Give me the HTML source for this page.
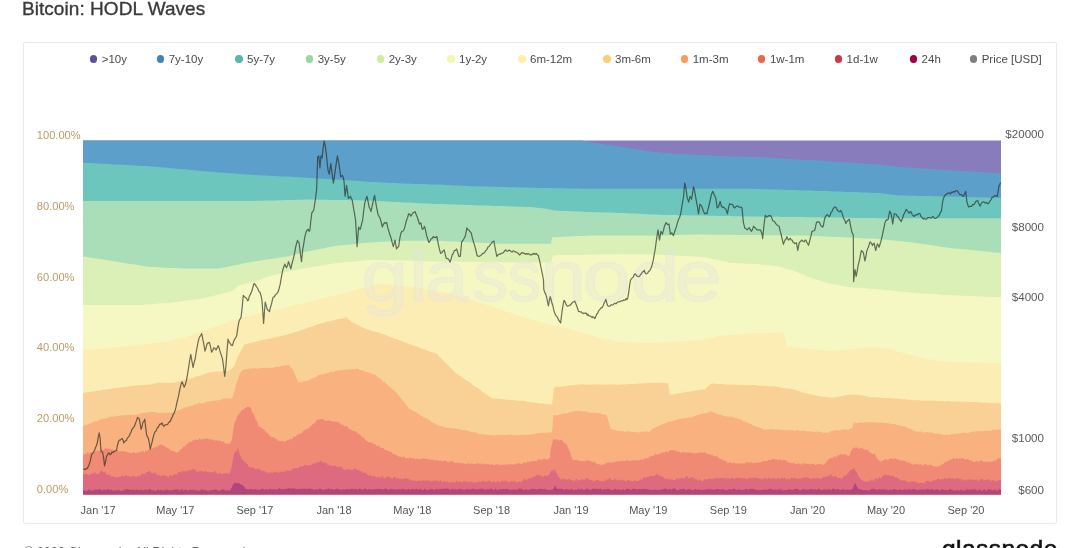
<!DOCTYPE html>
<html><head><meta charset="utf-8"><title>Bitcoin: HODL Waves</title>
<style>
html,body{margin:0;padding:0;background:#fff;}
body{width:1080px;height:548px;overflow:hidden;position:relative;font-family:"Liberation Sans",Arial,sans-serif;}
.title{position:absolute;left:22px;top:-2px;font-size:19px;color:#3a3a3a;-webkit-text-stroke:0.35px #3a3a3a;letter-spacing:0.05px;white-space:nowrap;}
.card{position:absolute;left:23px;top:42px;width:1032px;height:480px;border:1px solid #ebebeb;border-radius:2px;background:#fff;}
.li{position:absolute;top:52px;height:14px;line-height:14px;font-size:11.5px;color:#4a4a4a;padding-left:12px;white-space:nowrap;}
.dot{position:absolute;left:0;top:3px;width:7.6px;height:7.6px;border-radius:50%;}
.yl{position:absolute;left:36.8px;font-size:11.1px;line-height:14px;color:#be9a66;}
.yr{position:absolute;right:36px;font-size:11.6px;line-height:14px;color:#5a5a5a;text-align:right;}
.xl{position:absolute;top:502.5px;width:80px;text-align:center;font-size:11px;line-height:14px;color:#555;}
.foot{position:absolute;left:24px;top:545px;font-size:12.6px;line-height:15px;color:#666;white-space:nowrap;}
.logo{position:absolute;left:942px;top:535px;font-size:24.5px;line-height:28px;color:#111;-webkit-text-stroke:0.6px #111;letter-spacing:0.45px;white-space:nowrap;}
svg{position:absolute;left:0;top:0;}
</style></head><body>
<div class="title">Bitcoin: HODL Waves</div>
<div class="card"></div>
<div class="li" style="left:89.7px"><span class="dot" style="background:#5e4fa2"></span>&gt;10y</div>
<div class="li" style="left:156.7px"><span class="dot" style="background:#4283b4"></span>7y-10y</div>
<div class="li" style="left:235.0px"><span class="dot" style="background:#5eb5ab"></span>5y-7y</div>
<div class="li" style="left:305.7px"><span class="dot" style="background:#98d5a4"></span>3y-5y</div>
<div class="li" style="left:376.7px"><span class="dot" style="background:#cfec9e"></span>2y-3y</div>
<div class="li" style="left:447.0px"><span class="dot" style="background:#f2f9ac"></span>1y-2y</div>
<div class="li" style="left:518.0px"><span class="dot" style="background:#fef0a5"></span>6m-12m</div>
<div class="li" style="left:603.0px"><span class="dot" style="background:#fecd7c"></span>3m-6m</div>
<div class="li" style="left:680.7px"><span class="dot" style="background:#fa9b5a"></span>1m-3m</div>
<div class="li" style="left:757.9px"><span class="dot" style="background:#ec6649"></span>1w-1m</div>
<div class="li" style="left:834.6px"><span class="dot" style="background:#cd374b"></span>1d-1w</div>
<div class="li" style="left:909.6px"><span class="dot" style="background:#9e0142"></span>24h</div>
<div class="li" style="left:969.7px"><span class="dot" style="background:#7f7f7f"></span>Price [USD]</div>
<svg width="1080" height="548" viewBox="0 0 1080 548">
<path d="M83.0,494.4 L83.0,140.5 L87.0,140.5 L91.0,140.5 L95.0,140.5 L99.0,140.5 L103.0,140.5 L107.0,140.5 L111.0,140.5 L115.0,140.5 L119.0,140.5 L123.0,140.5 L127.0,140.5 L131.0,140.5 L135.0,140.5 L139.0,140.5 L143.0,140.5 L147.0,140.5 L151.0,140.5 L155.0,140.5 L159.0,140.5 L163.0,140.5 L167.0,140.5 L171.0,140.5 L175.0,140.5 L179.0,140.5 L183.0,140.5 L187.0,140.5 L191.0,140.5 L195.0,140.5 L199.0,140.5 L203.0,140.5 L207.0,140.5 L211.0,140.5 L215.0,140.5 L219.0,140.5 L223.0,140.5 L227.0,140.5 L231.0,140.5 L235.0,140.5 L239.0,140.5 L243.0,140.5 L247.0,140.5 L251.0,140.5 L255.0,140.5 L259.0,140.5 L263.0,140.5 L267.0,140.5 L271.0,140.5 L275.0,140.5 L279.0,140.5 L283.0,140.5 L287.0,140.5 L291.0,140.5 L295.0,140.5 L299.0,140.5 L303.0,140.5 L307.0,140.5 L311.0,140.5 L315.0,140.5 L319.0,140.5 L323.0,140.5 L327.0,140.5 L331.0,140.5 L335.0,140.5 L339.0,140.5 L343.0,140.5 L347.0,140.5 L351.0,140.5 L355.0,140.5 L359.0,140.5 L363.0,140.5 L367.0,140.5 L371.0,140.5 L375.0,140.5 L379.0,140.5 L383.0,140.5 L387.0,140.5 L391.0,140.5 L395.0,140.5 L399.0,140.5 L403.0,140.5 L407.0,140.5 L411.0,140.5 L415.0,140.5 L419.0,140.5 L423.0,140.5 L427.0,140.5 L431.0,140.5 L435.0,140.5 L439.0,140.5 L443.0,140.5 L447.0,140.5 L451.0,140.5 L455.0,140.5 L459.0,140.5 L463.0,140.5 L467.0,140.5 L471.0,140.5 L475.0,140.5 L479.0,140.5 L483.0,140.5 L487.0,140.5 L491.0,140.5 L495.0,140.5 L499.0,140.5 L503.0,140.5 L507.0,140.5 L511.0,140.5 L515.0,140.5 L519.0,140.5 L523.0,140.5 L527.0,140.5 L531.0,140.5 L535.0,140.5 L539.0,140.5 L543.0,140.5 L547.0,140.5 L551.0,140.5 L555.0,140.5 L559.0,140.5 L563.0,140.5 L567.0,140.5 L571.0,140.5 L575.0,140.5 L579.0,140.5 L583.0,140.5 L587.0,140.5 L591.0,140.5 L595.0,140.5 L599.0,140.5 L603.0,140.5 L607.0,140.5 L611.0,140.5 L615.0,140.5 L619.0,140.5 L623.0,140.5 L627.0,140.5 L631.0,140.5 L635.0,140.5 L639.0,140.5 L643.0,140.5 L647.0,140.5 L651.0,140.5 L655.0,140.5 L659.0,140.5 L663.0,140.5 L667.0,140.5 L671.0,140.5 L675.0,140.5 L679.0,140.5 L683.0,140.5 L687.0,140.5 L691.0,140.5 L695.0,140.5 L699.0,140.5 L703.0,140.5 L707.0,140.5 L711.0,140.5 L715.0,140.5 L719.0,140.5 L723.0,140.5 L727.0,140.5 L731.0,140.5 L735.0,140.5 L739.0,140.5 L743.0,140.5 L747.0,140.5 L751.0,140.5 L755.0,140.5 L759.0,140.5 L763.0,140.5 L767.0,140.5 L771.0,140.5 L775.0,140.5 L779.0,140.5 L783.0,140.5 L787.0,140.5 L791.0,140.5 L795.0,140.5 L799.0,140.5 L803.0,140.5 L807.0,140.5 L811.0,140.5 L815.0,140.5 L819.0,140.5 L823.0,140.5 L827.0,140.5 L831.0,140.5 L835.0,140.5 L839.0,140.5 L843.0,140.5 L847.0,140.5 L851.0,140.5 L855.0,140.5 L859.0,140.5 L863.0,140.5 L867.0,140.5 L871.0,140.5 L875.0,140.5 L879.0,140.5 L883.0,140.5 L887.0,140.5 L891.0,140.5 L895.0,140.5 L899.0,140.5 L903.0,140.5 L907.0,140.5 L911.0,140.5 L915.0,140.5 L919.0,140.5 L923.0,140.5 L927.0,140.5 L931.0,140.5 L935.0,140.5 L939.0,140.5 L943.0,140.5 L947.0,140.5 L951.0,140.5 L955.0,140.5 L959.0,140.5 L963.0,140.5 L967.0,140.5 L971.0,140.5 L975.0,140.5 L979.0,140.5 L983.0,140.5 L987.0,140.5 L991.0,140.5 L995.0,140.5 L999.0,140.5 L1001.0,140.5 L1001.0,494.4 Z" fill="#887cbd"/>
<path d="M83.0,494.4 L83.0,140.5 L87.0,140.5 L91.0,140.5 L95.0,140.5 L99.0,140.5 L103.0,140.5 L107.0,140.5 L111.0,140.5 L115.0,140.5 L119.0,140.5 L123.0,140.5 L127.0,140.5 L131.0,140.5 L135.0,140.5 L139.0,140.5 L143.0,140.5 L147.0,140.5 L151.0,140.5 L155.0,140.5 L159.0,140.5 L163.0,140.5 L167.0,140.5 L171.0,140.5 L175.0,140.5 L179.0,140.5 L183.0,140.5 L187.0,140.5 L191.0,140.5 L195.0,140.5 L199.0,140.5 L203.0,140.5 L207.0,140.5 L211.0,140.5 L215.0,140.5 L219.0,140.5 L223.0,140.5 L227.0,140.5 L231.0,140.5 L235.0,140.5 L239.0,140.5 L243.0,140.5 L247.0,140.5 L251.0,140.5 L255.0,140.5 L259.0,140.5 L263.0,140.5 L267.0,140.5 L271.0,140.5 L275.0,140.5 L279.0,140.5 L283.0,140.5 L287.0,140.5 L291.0,140.5 L295.0,140.5 L299.0,140.5 L303.0,140.5 L307.0,140.5 L311.0,140.5 L315.0,140.5 L319.0,140.5 L323.0,140.5 L327.0,140.5 L331.0,140.5 L335.0,140.5 L339.0,140.5 L343.0,140.5 L347.0,140.5 L351.0,140.5 L355.0,140.5 L359.0,140.5 L363.0,140.5 L367.0,140.5 L371.0,140.5 L375.0,140.5 L379.0,140.5 L383.0,140.5 L387.0,140.5 L391.0,140.5 L395.0,140.5 L399.0,140.5 L403.0,140.5 L407.0,140.5 L411.0,140.5 L415.0,140.5 L419.0,140.5 L423.0,140.5 L427.0,140.5 L431.0,140.5 L435.0,140.5 L439.0,140.5 L443.0,140.5 L447.0,140.5 L451.0,140.5 L455.0,140.5 L459.0,140.5 L463.0,140.5 L467.0,140.5 L471.0,140.5 L475.0,140.5 L479.0,140.5 L483.0,140.5 L487.0,140.5 L491.0,140.5 L495.0,140.5 L499.0,140.5 L503.0,140.5 L507.0,140.5 L511.0,140.5 L515.0,140.5 L519.0,140.5 L523.0,140.5 L527.0,140.5 L531.0,140.5 L535.0,140.5 L539.0,140.5 L543.0,140.5 L547.0,140.5 L551.0,140.5 L555.0,140.5 L559.0,140.5 L563.0,140.5 L567.0,140.5 L571.0,140.5 L575.0,140.5 L579.0,140.5 L582.0,140.5 L583.0,140.7 L587.0,141.4 L591.0,142.2 L595.0,142.9 L597.0,143.3 L599.0,143.6 L603.0,144.2 L607.0,144.8 L611.0,145.4 L615.0,146.0 L615.5,146.1 L619.0,146.6 L623.0,147.2 L627.0,147.8 L631.0,148.4 L634.0,148.9 L635.0,149.1 L639.0,149.7 L643.0,150.3 L647.0,150.9 L651.0,151.5 L652.6,151.7 L655.0,151.9 L659.0,152.3 L663.0,152.7 L667.0,153.1 L671.0,153.5 L675.0,153.7 L679.0,153.9 L683.0,154.1 L687.0,154.3 L689.6,154.4 L691.0,154.5 L695.0,154.7 L699.0,154.9 L703.0,155.1 L707.0,155.3 L708.0,155.4 L711.0,155.5 L715.0,155.7 L719.0,155.9 L723.0,156.1 L726.7,156.3 L727.0,156.3 L731.0,156.4 L735.0,156.5 L739.0,156.6 L743.0,156.7 L747.0,156.8 L751.0,157.0 L755.0,157.1 L759.0,157.2 L760.0,157.2 L763.0,157.4 L767.0,157.6 L771.0,157.8 L775.0,158.1 L779.0,158.3 L783.0,158.5 L787.0,158.7 L791.0,159.0 L795.0,159.2 L799.0,159.4 L803.0,159.7 L807.0,159.9 L809.0,160.0 L811.0,160.1 L815.0,160.4 L819.0,160.6 L823.0,160.9 L827.0,161.2 L831.0,161.4 L835.0,161.7 L839.0,161.9 L843.0,162.2 L847.0,162.4 L851.0,162.7 L855.0,163.0 L859.0,163.2 L863.0,163.5 L867.0,163.7 L871.0,164.0 L875.0,164.2 L879.0,164.5 L883.0,165.0 L887.0,165.5 L891.0,165.9 L895.0,166.4 L899.0,166.9 L900.0,167.0 L903.0,167.2 L907.0,167.4 L911.0,167.7 L915.0,167.9 L919.0,168.2 L923.0,168.4 L927.0,168.7 L931.0,168.9 L935.0,169.2 L939.0,169.4 L943.0,169.7 L947.0,169.9 L948.0,170.0 L951.0,170.2 L955.0,170.5 L959.0,170.7 L963.0,171.0 L967.0,171.3 L971.0,171.5 L975.0,171.8 L979.0,172.0 L983.0,172.3 L987.0,172.6 L991.0,172.8 L995.0,173.1 L999.0,173.4 L1001.0,173.5 L1001.0,494.4 Z" fill="#5d9fcb"/>
<path d="M83.0,494.4 L83.0,162.7 L87.0,162.9 L91.0,163.1 L95.0,163.3 L99.0,163.5 L103.0,163.8 L107.0,164.0 L111.0,164.2 L115.0,164.4 L119.0,164.6 L123.0,164.8 L127.0,165.0 L131.0,165.2 L135.0,165.5 L139.0,165.7 L143.0,165.9 L147.0,166.1 L149.0,166.2 L151.0,166.4 L155.0,166.7 L159.0,167.1 L163.0,167.5 L167.0,167.8 L171.0,168.2 L175.0,168.5 L179.0,168.9 L183.0,169.3 L187.0,169.6 L191.0,170.0 L195.0,170.3 L199.0,170.7 L203.0,171.1 L207.0,171.4 L211.0,171.8 L215.0,172.1 L219.0,172.5 L223.0,172.8 L227.0,173.1 L231.0,173.3 L235.0,173.6 L239.0,173.9 L243.0,174.2 L247.0,174.5 L251.0,174.8 L253.0,174.9 L255.0,175.0 L259.0,175.2 L263.0,175.4 L267.0,175.6 L271.0,175.8 L275.0,176.0 L279.0,176.2 L283.0,176.4 L287.0,176.6 L288.0,176.6 L291.0,176.8 L295.0,177.0 L299.0,177.3 L303.0,177.6 L307.0,177.8 L310.0,178.0 L311.0,178.1 L315.0,178.3 L319.0,178.5 L323.0,178.7 L327.0,179.0 L331.0,179.2 L335.0,179.4 L339.0,179.7 L343.0,180.0 L347.0,180.2 L351.0,180.5 L355.0,180.8 L359.0,181.1 L363.0,181.4 L367.0,181.7 L369.0,181.8 L371.0,181.9 L375.0,182.1 L379.0,182.3 L383.0,182.5 L387.0,182.7 L391.0,182.9 L395.0,183.1 L399.0,183.3 L403.0,183.5 L404.0,183.6 L407.0,183.7 L411.0,183.8 L415.0,183.9 L419.0,184.0 L423.0,184.1 L427.0,184.3 L431.0,184.4 L435.0,184.5 L439.0,184.6 L443.0,184.8 L447.0,185.0 L451.0,185.2 L455.0,185.4 L459.0,185.6 L463.0,185.8 L467.0,186.0 L471.0,186.2 L473.0,186.3 L475.0,186.3 L479.0,186.4 L483.0,186.5 L487.0,186.6 L491.0,186.7 L495.0,186.8 L499.0,186.9 L503.0,187.0 L507.0,187.1 L511.0,187.2 L515.0,187.3 L519.0,187.4 L523.0,187.5 L527.0,187.6 L530.0,187.7 L531.0,187.7 L535.0,187.8 L539.0,187.9 L543.0,187.9 L547.0,188.0 L551.0,188.1 L555.0,188.2 L559.0,188.2 L563.0,188.3 L567.0,188.4 L571.0,188.5 L575.0,188.5 L579.0,188.6 L583.0,188.7 L587.0,188.8 L589.0,188.8 L591.0,188.8 L595.0,188.8 L599.0,188.8 L603.0,188.8 L607.0,188.8 L611.0,188.8 L615.0,188.8 L619.0,188.8 L623.0,188.8 L627.0,188.8 L631.0,188.8 L635.0,188.8 L639.0,188.8 L643.0,188.8 L647.0,188.8 L651.0,188.8 L655.0,188.8 L659.0,188.8 L663.0,188.8 L667.0,188.8 L671.0,188.8 L675.0,188.8 L679.0,188.8 L683.0,188.8 L687.0,188.8 L691.0,188.8 L695.0,188.8 L699.0,188.8 L703.0,188.8 L707.0,188.8 L711.0,188.8 L715.0,188.8 L719.0,188.8 L723.0,188.8 L727.0,188.8 L731.0,188.8 L735.0,188.8 L739.0,188.8 L743.0,188.8 L747.0,188.8 L750.0,188.8 L751.0,188.8 L755.0,188.9 L759.0,189.1 L763.0,189.2 L767.0,189.3 L771.0,189.4 L775.0,189.5 L779.0,189.6 L783.0,189.8 L787.0,189.9 L791.0,190.0 L795.0,190.1 L799.0,190.2 L803.0,190.3 L807.0,190.4 L809.0,190.5 L811.0,190.6 L815.0,190.7 L819.0,190.9 L823.0,191.0 L827.0,191.1 L831.0,191.3 L835.0,191.4 L839.0,191.6 L843.0,191.7 L847.0,191.9 L851.0,192.0 L855.0,192.1 L859.0,192.3 L863.0,192.4 L867.0,192.6 L871.0,192.7 L875.0,192.9 L879.0,193.0 L883.0,193.5 L887.0,194.0 L891.0,194.4 L895.0,194.9 L899.0,195.4 L900.0,195.5 L903.0,195.6 L907.0,195.6 L911.0,195.7 L915.0,195.8 L919.0,195.9 L923.0,196.0 L927.0,196.1 L931.0,196.1 L935.0,196.2 L939.0,196.3 L943.0,196.4 L947.0,196.5 L948.0,196.5 L951.0,196.6 L955.0,196.7 L959.0,196.8 L963.0,196.9 L967.0,197.0 L971.0,197.2 L975.0,197.3 L979.0,197.4 L983.0,197.5 L987.0,197.6 L991.0,197.7 L995.0,197.8 L999.0,197.9 L1001.0,198.0 L1001.0,494.4 Z" fill="#6cc6bd"/>
<path d="M83.0,494.4 L83.0,200.9 L87.0,200.9 L91.0,200.9 L95.0,200.9 L99.0,200.9 L103.0,200.9 L107.0,200.9 L111.0,200.9 L115.0,200.9 L119.0,200.9 L123.0,200.9 L127.0,200.9 L131.0,200.9 L135.0,200.9 L139.0,200.9 L143.0,200.9 L147.0,200.9 L151.0,200.9 L155.0,200.9 L159.0,200.9 L163.0,200.9 L167.0,200.9 L171.0,200.9 L175.0,200.9 L179.0,200.9 L183.0,200.9 L184.0,200.9 L187.0,200.9 L191.0,200.9 L195.0,200.9 L199.0,200.9 L203.0,200.9 L207.0,200.9 L211.0,200.9 L215.0,200.9 L219.0,200.9 L223.0,200.9 L227.0,200.9 L231.0,200.9 L235.0,200.9 L239.0,200.9 L243.0,200.9 L247.0,200.9 L251.0,200.9 L253.0,200.9 L255.0,200.9 L259.0,200.8 L263.0,200.7 L267.0,200.6 L271.0,200.5 L275.0,200.4 L279.0,200.3 L283.0,200.2 L287.0,200.1 L291.0,200.0 L295.0,199.9 L299.0,199.8 L303.0,199.7 L307.0,199.6 L310.0,199.5 L311.0,199.5 L315.0,199.6 L319.0,199.7 L323.0,199.7 L327.0,199.8 L331.0,199.9 L335.0,199.9 L339.0,200.0 L343.0,200.1 L347.0,200.1 L351.0,200.2 L355.0,200.3 L359.0,200.3 L363.0,200.4 L367.0,200.5 L369.0,200.5 L371.0,200.6 L375.0,200.8 L379.0,201.0 L383.0,201.3 L387.0,201.5 L391.0,201.7 L395.0,201.9 L399.0,202.1 L403.0,202.4 L407.0,202.6 L411.0,202.8 L415.0,203.0 L419.0,203.2 L420.0,203.3 L423.0,203.4 L427.0,203.6 L431.0,203.7 L435.0,203.9 L439.0,204.0 L443.0,204.1 L447.0,204.3 L451.0,204.4 L455.0,204.6 L459.0,204.7 L463.0,204.8 L467.0,205.0 L471.0,205.1 L473.0,205.2 L475.0,205.3 L479.0,205.4 L483.0,205.5 L487.0,205.6 L491.0,205.8 L495.0,205.9 L499.0,206.0 L503.0,206.1 L507.0,206.3 L511.0,206.4 L515.0,206.5 L519.0,206.7 L523.0,206.8 L527.0,206.9 L530.0,207.0 L531.0,207.1 L535.0,207.5 L539.0,207.9 L543.0,208.3 L545.0,208.5 L547.0,208.9 L551.0,209.7 L555.0,210.5 L559.0,210.7 L563.0,210.9 L567.0,211.0 L571.0,211.2 L575.0,211.4 L579.0,211.6 L583.0,211.7 L587.0,211.9 L589.0,212.0 L591.0,212.1 L595.0,212.2 L599.0,212.3 L603.0,212.4 L607.0,212.5 L611.0,212.6 L615.0,212.7 L619.0,212.9 L623.0,213.0 L624.0,213.0 L627.0,213.2 L631.0,213.4 L635.0,213.6 L639.0,213.8 L643.0,214.0 L647.0,214.2 L651.0,214.4 L655.0,214.6 L659.0,214.8 L663.0,214.9 L667.0,214.9 L671.0,215.0 L675.0,215.1 L679.0,215.2 L683.0,215.2 L687.0,215.3 L691.0,215.4 L695.0,215.5 L699.0,215.5 L703.0,215.6 L707.0,215.7 L711.0,215.8 L715.0,215.8 L719.0,215.9 L723.0,216.0 L727.0,216.1 L731.0,216.1 L735.0,216.2 L739.0,216.3 L743.0,216.4 L747.0,216.4 L750.0,216.5 L751.0,216.5 L755.0,216.6 L759.0,216.6 L763.0,216.7 L767.0,216.7 L771.0,216.7 L775.0,216.8 L779.0,216.8 L783.0,216.9 L787.0,216.9 L791.0,217.0 L795.0,217.0 L799.0,217.1 L803.0,217.1 L807.0,217.2 L809.0,217.2 L811.0,217.2 L815.0,217.3 L819.0,217.3 L823.0,217.4 L827.0,217.5 L831.0,217.5 L835.0,217.6 L839.0,217.6 L843.0,217.7 L847.0,217.7 L851.0,217.8 L855.0,217.9 L859.0,217.9 L863.0,218.0 L867.0,218.0 L871.0,218.1 L875.0,218.1 L879.0,218.2 L883.0,218.2 L887.0,218.2 L891.0,218.2 L895.0,218.2 L899.0,218.2 L903.0,218.2 L907.0,218.2 L911.0,218.2 L915.0,218.2 L919.0,218.2 L923.0,218.2 L927.0,218.2 L931.0,218.2 L935.0,218.2 L939.0,218.2 L943.0,218.2 L947.0,218.2 L951.0,218.2 L955.0,218.2 L959.0,218.2 L963.0,218.2 L967.0,218.2 L971.0,218.2 L975.0,218.2 L979.0,218.2 L983.0,218.2 L987.0,218.2 L991.0,218.2 L995.0,218.2 L999.0,218.2 L1001.0,218.2 L1001.0,494.4 Z" fill="#a9deb8"/>
<path d="M83.0,494.4 L83.0,256.5 L87.0,257.1 L91.0,257.7 L95.0,258.3 L99.0,258.9 L100.0,259.0 L103.0,259.5 L107.0,260.2 L111.0,260.8 L115.0,261.5 L119.0,262.1 L123.0,262.7 L127.0,263.4 L131.0,264.0 L135.0,264.6 L139.0,265.2 L143.0,265.9 L147.0,266.5 L149.0,266.8 L151.0,266.9 L155.0,267.1 L159.0,267.3 L163.0,267.5 L167.0,267.7 L171.0,267.9 L175.0,268.1 L179.0,268.3 L183.0,268.5 L184.0,268.5 L187.0,268.5 L191.0,268.5 L195.0,268.5 L199.0,268.5 L203.0,268.5 L207.0,268.5 L211.0,268.5 L215.0,268.5 L219.0,268.5 L223.0,267.7 L227.0,266.9 L231.0,266.0 L235.0,265.2 L236.0,265.0 L239.0,264.4 L243.0,263.6 L247.0,262.8 L251.0,262.0 L253.0,261.6 L255.0,261.3 L259.0,260.7 L263.0,260.1 L267.0,259.5 L271.0,258.9 L275.0,258.3 L279.0,257.7 L283.0,257.1 L287.0,256.5 L288.0,256.4 L291.0,255.6 L295.0,254.6 L299.0,253.6 L303.0,252.5 L305.0,252.0 L307.0,251.6 L311.0,250.8 L315.0,250.0 L319.0,249.2 L323.0,248.4 L327.0,247.6 L331.0,246.8 L335.0,246.0 L339.0,245.6 L343.0,245.2 L347.0,244.8 L351.0,244.4 L355.0,243.9 L359.0,243.5 L363.0,243.1 L367.0,242.7 L369.0,242.5 L371.0,242.4 L375.0,242.2 L379.0,242.0 L383.0,241.8 L387.0,241.6 L391.0,241.4 L395.0,241.2 L399.0,241.0 L403.0,240.8 L404.0,240.8 L407.0,240.8 L411.0,240.8 L415.0,240.8 L419.0,240.8 L423.0,240.8 L427.0,240.8 L431.0,240.8 L435.0,240.8 L439.0,240.8 L443.0,241.0 L447.0,241.2 L451.0,241.4 L455.0,241.6 L459.0,241.8 L463.0,242.0 L467.0,242.2 L471.0,242.4 L473.0,242.5 L475.0,242.6 L479.0,242.8 L483.0,242.9 L487.0,243.1 L491.0,243.3 L495.0,243.5 L499.0,243.7 L500.0,243.7 L503.0,243.7 L507.0,243.7 L511.0,243.7 L515.0,243.7 L519.0,243.7 L523.0,243.7 L527.0,243.7 L531.0,243.7 L535.0,243.7 L539.0,243.7 L543.0,243.7 L547.0,243.7 L551.0,243.7 L552.0,237.3 L555.0,237.2 L559.0,237.0 L563.0,236.8 L567.0,236.6 L571.0,236.4 L575.0,236.2 L579.0,236.1 L583.0,235.9 L587.0,235.7 L589.0,235.6 L591.0,235.6 L595.0,235.6 L599.0,235.6 L603.0,235.6 L607.0,235.6 L611.0,235.6 L615.0,235.6 L619.0,235.6 L623.0,235.6 L627.0,235.6 L631.0,235.6 L635.0,235.6 L639.0,235.6 L643.0,235.6 L647.0,235.6 L651.0,235.6 L655.0,235.6 L659.0,235.6 L663.0,235.5 L667.0,235.3 L671.0,235.2 L675.0,235.1 L679.0,235.0 L683.0,234.8 L687.0,234.7 L691.0,234.6 L693.0,234.5 L695.0,234.5 L699.0,234.6 L703.0,234.6 L707.0,234.6 L711.0,234.7 L715.0,234.7 L719.0,234.7 L723.0,234.8 L727.0,234.8 L731.0,234.8 L735.0,234.9 L739.0,234.9 L743.0,234.9 L747.0,235.0 L750.0,235.0 L751.0,235.0 L755.0,235.1 L759.0,235.1 L763.0,235.1 L767.0,235.2 L771.0,235.2 L775.0,235.3 L779.0,235.3 L783.0,235.3 L787.0,235.4 L791.0,235.4 L795.0,235.5 L799.0,235.5 L803.0,235.5 L807.0,235.6 L809.0,235.6 L811.0,235.7 L815.0,235.9 L819.0,236.1 L823.0,236.3 L827.0,236.5 L831.0,236.7 L835.0,236.9 L839.0,237.1 L843.0,237.3 L844.0,237.3 L847.0,237.4 L851.0,237.6 L855.0,237.8 L859.0,238.0 L863.0,238.2 L867.0,238.4 L871.0,238.6 L875.0,238.8 L879.0,239.0 L883.0,239.4 L887.0,239.8 L891.0,240.2 L895.0,240.6 L899.0,241.1 L903.0,241.5 L907.0,241.9 L911.0,242.3 L913.0,242.5 L915.0,242.8 L919.0,243.4 L923.0,244.0 L927.0,244.6 L931.0,245.2 L935.0,245.8 L939.0,246.4 L943.0,247.0 L947.0,247.6 L948.0,247.7 L951.0,248.0 L955.0,248.4 L959.0,248.8 L963.0,249.2 L967.0,249.6 L971.0,250.0 L975.0,250.4 L979.0,250.8 L983.0,251.2 L987.0,251.6 L991.0,252.0 L995.0,252.4 L999.0,252.8 L1001.0,253.0 L1001.0,494.4 Z" fill="#daf0b6"/>
<path d="M83.0,494.4 L83.0,305.0 L87.0,305.0 L91.0,305.0 L95.0,305.0 L99.0,305.0 L103.0,305.0 L107.0,305.0 L108.0,305.0 L111.0,305.0 L115.0,305.0 L119.0,305.0 L123.0,305.0 L127.0,305.0 L131.0,305.0 L135.0,305.0 L139.0,305.0 L140.0,305.0 L143.0,304.8 L147.0,304.5 L151.0,304.2 L155.0,303.9 L159.0,303.6 L163.0,303.3 L167.0,303.0 L171.0,302.7 L173.0,302.5 L175.0,302.2 L179.0,301.7 L183.0,301.1 L187.0,300.5 L191.0,300.0 L195.0,299.4 L199.0,298.9 L203.0,298.3 L206.0,297.9 L207.0,297.6 L211.0,296.6 L215.0,295.6 L219.0,294.6 L223.0,293.6 L227.0,292.6 L231.0,291.6 L232.0,291.3 L235.0,288.7 L238.5,285.6 L239.0,285.5 L243.0,284.5 L247.0,283.5 L251.0,282.5 L255.0,281.5 L259.0,280.1 L263.0,278.6 L267.0,277.1 L271.0,275.7 L275.0,274.7 L279.0,273.8 L283.0,272.8 L287.0,271.8 L288.0,271.6 L291.0,271.0 L295.0,270.1 L299.0,269.2 L300.0,269.0 L303.0,268.5 L307.0,267.9 L311.0,267.2 L315.0,266.6 L319.0,265.9 L323.0,265.3 L327.0,264.6 L331.0,264.0 L335.0,263.3 L339.0,262.9 L343.0,262.5 L347.0,262.1 L351.0,261.7 L355.0,261.4 L359.0,261.0 L363.0,260.6 L367.0,260.2 L369.0,260.0 L371.0,260.0 L375.0,260.1 L379.0,260.1 L383.0,260.2 L387.0,260.3 L391.0,260.3 L395.0,260.4 L399.0,260.4 L403.0,260.5 L404.0,260.5 L407.0,260.6 L411.0,260.7 L415.0,260.8 L419.0,260.9 L423.0,261.0 L427.0,261.2 L431.0,261.3 L435.0,261.4 L439.0,261.5 L443.0,261.6 L447.0,261.6 L451.0,261.7 L455.0,261.7 L459.0,261.8 L463.0,261.9 L467.0,261.9 L471.0,262.0 L473.0,262.0 L475.0,262.0 L479.0,262.1 L483.0,262.1 L487.0,262.1 L491.0,262.2 L495.0,262.2 L499.0,262.3 L503.0,262.3 L507.0,262.4 L511.0,262.4 L515.0,262.4 L519.0,262.5 L523.0,262.5 L527.0,262.6 L530.0,262.6 L531.0,262.6 L535.0,262.6 L539.0,262.6 L543.0,262.6 L547.0,262.6 L551.0,262.6 L553.0,255.2 L555.0,255.2 L559.0,255.1 L563.0,255.1 L567.0,255.0 L571.0,255.0 L575.0,254.9 L579.0,254.9 L583.0,254.8 L587.0,254.7 L591.0,254.7 L595.0,254.6 L599.0,254.6 L603.0,254.5 L607.0,254.5 L611.0,254.4 L615.0,254.4 L619.0,254.3 L620.0,254.3 L623.0,254.3 L627.0,254.4 L631.0,254.4 L635.0,254.4 L639.0,254.5 L643.0,254.5 L647.0,254.6 L651.0,254.6 L655.0,254.6 L659.0,254.7 L660.0,254.7 L663.0,254.9 L667.0,255.1 L671.0,255.3 L675.0,255.5 L679.0,255.7 L683.0,255.9 L687.0,256.1 L691.0,256.3 L695.0,256.5 L699.0,256.7 L703.0,256.9 L704.0,257.0 L707.0,257.7 L711.0,258.6 L715.0,259.5 L719.0,260.3 L723.0,261.2 L727.0,262.1 L730.0,262.8 L731.0,262.9 L735.0,263.1 L739.0,263.3 L743.0,263.5 L747.0,263.7 L751.0,263.9 L755.0,264.1 L759.0,264.3 L760.0,264.4 L763.0,264.7 L767.0,265.1 L771.0,265.5 L775.0,265.9 L777.0,266.1 L779.0,266.7 L783.0,267.8 L787.0,269.0 L791.0,270.1 L795.0,271.3 L799.0,272.9 L803.0,274.5 L807.0,276.2 L811.0,277.8 L812.0,278.2 L815.0,279.1 L819.0,280.3 L823.0,281.6 L827.0,282.8 L829.0,283.4 L831.0,283.8 L835.0,284.6 L839.0,285.3 L843.0,286.1 L847.0,286.9 L851.0,287.2 L855.0,287.5 L859.0,287.8 L863.0,288.1 L867.0,288.5 L871.0,288.8 L875.0,289.1 L879.0,289.4 L883.0,289.8 L887.0,290.2 L891.0,290.6 L895.0,291.0 L899.0,291.4 L903.0,291.8 L907.0,292.2 L911.0,292.6 L913.0,292.8 L915.0,292.9 L919.0,293.2 L923.0,293.5 L927.0,293.8 L931.0,294.0 L935.0,294.3 L939.0,294.6 L943.0,294.9 L947.0,295.1 L948.0,295.2 L951.0,295.3 L955.0,295.5 L959.0,295.6 L963.0,295.8 L967.0,296.0 L971.0,296.1 L975.0,296.3 L979.0,296.4 L983.0,296.6 L987.0,296.7 L991.0,296.9 L995.0,297.1 L999.0,297.2 L1001.0,297.3 L1001.0,494.4 Z" fill="#f5f8c2"/>
<path d="M83.0,494.4 L83.0,350.0 L87.0,349.7 L91.0,349.4 L95.0,349.0 L99.0,348.7 L103.0,348.4 L107.0,348.1 L108.0,348.0 L111.0,347.7 L115.0,347.2 L119.0,346.8 L123.0,346.4 L127.0,346.0 L131.0,345.5 L135.0,345.1 L136.0,345.0 L139.0,344.7 L143.0,344.2 L147.0,343.8 L151.0,343.4 L155.0,343.0 L159.0,342.5 L163.0,342.1 L164.0,342.0 L167.0,341.3 L171.0,340.4 L175.0,339.6 L179.0,338.7 L182.0,338.0 L183.0,337.7 L187.0,336.4 L191.0,335.2 L195.0,333.9 L199.0,332.6 L201.0,332.0 L203.0,331.3 L207.0,329.8 L211.0,328.3 L215.0,326.8 L219.0,325.4 L220.0,325.0 L223.0,323.9 L227.0,322.6 L231.0,321.1 L235.0,319.8 L239.0,318.4 L240.0,318.0 L243.0,317.3 L247.0,316.4 L251.0,315.4 L255.0,314.5 L259.0,313.6 L263.0,312.6 L267.0,311.7 L270.0,311.0 L271.0,310.8 L275.0,309.8 L279.0,308.9 L283.0,308.0 L287.0,307.0 L291.0,306.1 L295.0,305.2 L299.0,304.2 L300.0,304.0 L303.0,303.2 L307.0,302.2 L311.0,301.2 L315.0,300.2 L319.0,299.2 L323.0,298.2 L327.0,297.2 L331.0,296.2 L335.0,295.2 L339.0,294.2 L340.0,294.0 L343.0,293.2 L347.0,292.1 L351.0,291.1 L355.0,290.0 L359.0,288.9 L363.0,287.8 L367.0,286.8 L371.0,285.7 L375.0,284.6 L379.0,283.6 L380.0,283.3 L383.0,283.7 L387.0,284.2 L391.0,284.7 L395.0,285.2 L399.0,285.7 L403.0,286.2 L407.0,286.7 L411.0,287.2 L413.0,287.5 L415.0,287.8 L419.0,288.5 L423.0,289.1 L427.0,289.8 L431.0,290.4 L435.0,291.1 L439.0,291.7 L443.0,292.4 L447.0,293.0 L451.0,294.1 L455.0,295.2 L459.0,296.4 L463.0,297.5 L467.0,298.6 L471.0,299.7 L472.0,300.0 L475.0,301.0 L479.0,302.3 L483.0,303.7 L487.0,305.0 L491.0,306.3 L495.0,307.6 L497.0,308.3 L499.0,309.0 L503.0,310.3 L507.0,311.7 L511.0,313.0 L515.0,314.3 L519.0,315.7 L522.0,316.7 L523.0,317.0 L527.0,318.2 L531.0,319.4 L535.0,320.6 L539.0,321.8 L543.0,323.0 L547.0,324.2 L551.0,325.0 L555.0,325.9 L559.0,326.7 L563.0,327.6 L564.0,327.8 L567.0,328.6 L571.0,329.6 L575.0,330.6 L579.0,331.6 L582.0,332.4 L583.0,332.7 L587.0,333.9 L591.0,335.1 L595.0,336.2 L599.0,337.4 L601.0,338.0 L603.0,338.4 L607.0,339.2 L611.0,340.1 L615.0,340.9 L619.0,341.7 L623.0,341.9 L627.0,342.1 L631.0,342.3 L635.0,342.5 L638.0,342.7 L639.0,342.7 L643.0,342.7 L647.0,342.7 L651.0,342.7 L655.0,342.7 L657.0,342.7 L659.0,342.6 L663.0,342.4 L667.0,342.1 L671.0,341.9 L675.0,341.7 L679.0,341.4 L683.0,341.1 L687.0,340.8 L691.0,340.5 L695.0,340.3 L699.0,340.0 L700.0,339.9 L703.0,339.3 L707.0,338.5 L711.0,337.7 L715.0,336.9 L719.0,336.1 L723.0,335.7 L727.0,335.3 L731.0,334.9 L735.0,334.5 L737.0,334.3 L739.0,334.2 L743.0,334.0 L747.0,333.8 L751.0,333.6 L755.0,333.4 L756.0,333.3 L759.0,333.2 L763.0,333.1 L767.0,332.9 L771.0,332.8 L775.0,332.7 L779.0,332.6 L783.0,332.4 L784.0,332.4 L787.0,346.4 L791.0,346.8 L795.0,347.3 L799.0,347.7 L803.0,348.2 L807.0,348.6 L811.0,349.1 L812.0,349.2 L815.0,349.5 L819.0,349.9 L823.0,350.3 L827.0,350.7 L830.0,351.0 L831.0,350.9 L835.0,350.6 L839.0,350.2 L843.0,349.8 L847.0,349.5 L850.0,349.2 L851.0,349.1 L855.0,348.7 L859.0,348.3 L863.0,347.9 L867.0,347.5 L869.0,347.3 L871.0,347.4 L875.0,347.6 L879.0,347.8 L883.0,348.0 L887.0,348.2 L891.0,349.4 L895.0,350.6 L899.0,351.7 L903.0,352.9 L906.0,353.8 L907.0,354.1 L911.0,355.1 L915.0,356.1 L919.0,357.2 L923.0,358.2 L924.0,358.5 L927.0,358.9 L931.0,359.5 L935.0,360.1 L939.0,360.7 L943.0,361.3 L947.0,361.5 L951.0,361.7 L955.0,361.9 L959.0,362.1 L962.0,362.2 L963.0,362.2 L967.0,362.3 L971.0,362.4 L975.0,362.5 L979.0,362.6 L983.0,362.7 L987.0,362.8 L991.0,362.9 L995.0,363.0 L999.0,363.1 L1001.0,363.1 L1001.0,494.4 Z" fill="#fcedb4"/>
<path d="M83.0,494.4 L83.0,392.7 L84.0,393.0 L85.0,392.8 L86.0,392.3 L87.0,392.3 L88.0,392.1 L89.0,392.1 L90.0,392.0 L91.0,391.5 L92.0,391.3 L93.0,391.6 L94.0,391.2 L95.0,391.3 L96.0,390.7 L97.0,390.8 L98.0,390.8 L99.0,390.4 L100.0,390.7 L101.0,390.5 L102.0,389.8 L103.0,389.7 L104.0,389.8 L105.0,389.9 L106.0,389.4 L107.0,389.2 L108.0,389.2 L109.0,388.8 L110.0,388.8 L111.0,388.8 L112.0,388.7 L113.0,388.4 L114.0,388.2 L115.0,388.1 L116.0,388.1 L117.0,387.9 L118.0,387.6 L119.0,387.9 L120.0,387.6 L121.0,387.5 L122.0,387.1 L123.0,387.5 L124.0,387.2 L125.0,386.7 L126.0,386.7 L127.0,386.8 L128.0,386.6 L129.0,386.6 L130.0,386.2 L131.0,386.3 L132.0,386.0 L133.0,385.7 L134.0,385.7 L135.0,385.8 L136.0,385.6 L137.0,385.3 L138.0,385.3 L139.0,384.9 L140.0,385.0 L141.0,385.3 L142.0,385.0 L143.0,384.8 L144.0,384.9 L145.0,385.0 L146.0,384.9 L147.0,384.7 L148.0,384.6 L149.0,384.6 L150.0,384.7 L151.0,384.5 L152.0,384.2 L153.0,384.0 L154.0,383.4 L155.0,383.2 L156.0,383.3 L157.0,383.2 L158.0,382.8 L159.0,382.6 L160.0,382.5 L161.0,382.7 L162.0,383.0 L163.0,382.9 L164.0,382.7 L165.0,382.9 L166.0,382.5 L167.0,382.7 L168.0,383.0 L169.0,382.7 L170.0,382.7 L171.0,382.6 L172.0,382.7 L173.0,383.0 L174.0,382.2 L175.0,382.4 L176.0,382.2 L177.0,381.9 L178.0,381.6 L179.0,381.4 L180.0,381.0 L181.0,380.8 L182.0,380.4 L183.0,380.0 L184.0,380.2 L185.0,379.8 L186.0,379.3 L187.0,379.2 L188.0,379.0 L189.0,378.7 L190.0,378.4 L191.0,378.3 L192.0,378.1 L193.0,377.8 L194.0,377.4 L195.0,376.8 L196.0,376.6 L197.0,376.3 L198.0,376.2 L199.0,376.0 L200.0,375.7 L201.0,375.4 L202.0,375.1 L203.0,374.4 L204.0,374.5 L205.0,374.1 L206.0,373.4 L207.0,373.0 L208.0,372.7 L209.0,372.9 L210.0,372.2 L211.0,372.1 L212.0,372.3 L213.0,372.0 L214.0,371.8 L215.0,371.7 L216.0,371.8 L217.0,371.5 L218.0,371.5 L219.0,371.7 L220.0,371.4 L221.0,371.3 L222.0,371.2 L223.0,370.9 L224.0,371.0 L225.0,370.9 L226.0,370.7 L227.0,370.6 L228.0,370.9 L229.0,370.6 L230.0,369.7 L231.0,369.1 L232.0,368.5 L233.0,367.3 L234.0,366.5 L235.0,363.9 L236.0,361.5 L237.0,358.5 L238.0,356.1 L239.0,354.3 L240.0,352.4 L241.0,350.4 L242.0,349.0 L243.0,347.1 L244.0,345.1 L244.3,344.3 L245.0,344.4 L246.0,344.0 L247.0,343.9 L248.0,343.5 L249.0,343.4 L250.0,342.8 L251.0,342.7 L252.0,342.9 L253.0,342.6 L254.0,342.0 L255.0,342.1 L256.0,341.5 L257.0,341.6 L258.0,341.3 L259.0,340.8 L260.0,340.5 L261.0,340.1 L262.0,340.4 L263.0,339.6 L264.0,339.9 L265.0,339.8 L266.0,339.3 L267.0,338.9 L268.0,339.1 L269.0,339.0 L270.0,338.6 L271.0,338.3 L272.0,338.0 L273.0,337.8 L274.0,337.5 L275.0,337.5 L276.0,337.2 L277.0,336.8 L278.0,336.6 L279.0,336.7 L280.0,336.3 L281.0,336.2 L281.5,336.0 L282.0,336.2 L283.0,335.9 L284.0,335.1 L285.0,334.9 L286.0,334.7 L287.0,334.8 L288.0,334.3 L289.0,333.8 L290.0,333.4 L291.0,333.4 L292.0,333.2 L293.0,332.9 L294.0,332.3 L295.0,332.3 L296.0,331.9 L297.0,331.5 L298.0,331.5 L299.0,330.7 L300.0,330.7 L301.0,330.0 L302.0,329.7 L303.0,329.8 L304.0,329.0 L305.0,329.0 L306.0,328.5 L307.0,328.3 L308.0,327.7 L309.0,327.3 L310.0,326.9 L311.0,326.9 L312.0,326.4 L313.0,326.3 L314.0,325.9 L315.0,325.1 L316.0,325.0 L317.0,324.4 L318.0,324.0 L318.7,323.7 L319.0,324.1 L320.0,323.9 L321.0,323.6 L322.0,323.1 L323.0,323.0 L324.0,322.9 L325.0,322.4 L326.0,322.2 L327.0,321.8 L328.0,321.4 L329.0,321.3 L330.0,321.4 L331.0,321.0 L332.0,321.0 L333.0,320.4 L334.0,320.1 L335.0,320.1 L336.0,319.9 L337.0,319.2 L337.3,319.5 L338.0,319.0 L339.0,318.8 L340.0,319.1 L341.0,318.4 L342.0,318.3 L343.0,318.5 L344.0,318.0 L345.0,317.6 L346.0,317.4 L346.6,317.3 L347.0,318.0 L348.0,318.5 L349.0,319.8 L350.0,320.4 L351.0,321.6 L352.0,322.4 L353.0,322.6 L354.0,323.0 L355.0,323.7 L356.0,323.9 L357.0,324.8 L358.0,324.9 L359.0,325.4 L360.0,326.4 L361.0,326.5 L362.0,327.2 L363.0,327.6 L364.0,328.0 L365.0,328.3 L365.2,328.9 L366.0,329.2 L367.0,329.5 L368.0,329.3 L369.0,329.7 L370.0,330.2 L371.0,330.7 L372.0,330.8 L373.0,331.2 L374.0,331.4 L375.0,331.5 L376.0,332.0 L377.0,332.1 L378.0,332.4 L379.0,332.6 L380.0,333.0 L381.0,333.7 L382.0,333.7 L383.0,334.2 L383.8,334.4 L384.0,334.7 L385.0,334.8 L386.0,335.1 L387.0,335.6 L388.0,336.0 L389.0,336.8 L390.0,337.2 L391.0,337.2 L392.0,337.6 L393.0,338.1 L394.0,338.5 L395.0,338.9 L396.0,339.0 L397.0,339.2 L398.0,339.7 L399.0,340.0 L400.0,340.6 L401.0,340.7 L402.0,341.1 L403.0,341.8 L404.0,341.9 L405.0,342.6 L406.0,342.8 L407.0,343.4 L408.0,343.3 L409.0,343.9 L410.0,344.4 L411.0,344.3 L412.0,345.2 L413.0,345.1 L414.0,345.8 L415.0,346.3 L416.0,346.6 L417.0,346.6 L418.0,346.9 L419.0,347.5 L420.0,348.1 L421.0,348.1 L422.0,348.8 L423.0,348.7 L424.0,349.5 L425.0,349.4 L426.0,349.9 L427.0,350.6 L428.0,350.9 L429.0,351.3 L430.0,351.7 L431.0,352.0 L432.0,352.3 L433.0,352.3 L434.0,352.9 L435.0,353.1 L436.0,353.7 L436.5,353.9 L437.0,354.2 L438.0,355.0 L439.0,356.6 L440.0,357.5 L441.0,358.3 L442.0,359.3 L443.0,360.5 L444.0,361.3 L445.0,362.2 L446.0,363.2 L447.0,364.2 L448.0,365.0 L449.0,366.4 L450.0,367.3 L451.0,368.3 L452.0,369.0 L453.0,370.2 L454.0,371.1 L455.0,372.1 L455.1,372.3 L456.0,373.2 L457.0,373.7 L458.0,374.4 L459.0,375.2 L460.0,375.7 L461.0,376.2 L462.0,377.2 L463.0,377.9 L464.0,378.7 L465.0,379.3 L466.0,380.1 L467.0,380.9 L468.0,381.3 L469.0,382.1 L470.0,382.8 L471.0,383.3 L472.0,384.2 L473.0,384.9 L473.7,385.6 L474.0,385.9 L475.0,386.2 L476.0,387.1 L477.0,387.5 L478.0,388.2 L479.0,389.1 L480.0,390.1 L481.0,390.3 L482.0,391.4 L483.0,392.2 L484.0,392.5 L485.0,393.5 L486.0,394.3 L487.0,394.7 L488.0,395.6 L489.0,396.3 L490.0,396.9 L491.0,397.8 L492.0,398.5 L492.3,398.8 L493.0,398.6 L494.0,398.4 L495.0,398.6 L496.0,398.6 L497.0,398.9 L498.0,399.1 L499.0,398.7 L500.0,399.2 L501.0,399.3 L502.0,399.1 L503.0,399.3 L504.0,399.2 L505.0,399.6 L506.0,399.3 L507.0,399.9 L508.0,399.9 L509.0,399.8 L510.0,399.7 L511.0,400.2 L512.0,400.3 L513.0,399.8 L514.0,400.3 L515.0,400.4 L516.0,400.4 L517.0,400.5 L518.0,400.4 L519.0,400.8 L520.0,400.9 L520.2,400.5 L521.0,400.9 L522.0,400.8 L523.0,400.8 L524.0,401.1 L525.0,401.1 L526.0,401.7 L527.0,401.9 L528.0,401.5 L529.0,402.0 L530.0,402.0 L531.0,402.0 L532.0,402.3 L533.0,402.4 L534.0,402.8 L535.0,402.5 L536.0,402.8 L537.0,403.1 L538.0,403.0 L538.8,403.5 L539.0,403.5 L540.0,403.7 L541.0,403.4 L542.0,403.5 L543.0,403.7 L544.0,403.6 L545.0,403.9 L546.0,403.7 L547.0,404.1 L548.0,404.2 L549.0,404.3 L550.0,404.4 L551.0,404.3 L552.0,404.3 L553.0,396.0 L554.0,387.5 L555.0,387.2 L556.0,387.0 L557.0,386.8 L558.0,386.6 L559.0,386.9 L560.0,386.4 L561.0,386.6 L562.0,386.4 L563.0,386.6 L564.0,386.3 L565.0,386.3 L566.0,385.7 L567.0,385.8 L568.0,385.7 L569.0,385.5 L570.0,385.5 L571.0,385.3 L572.0,385.3 L573.0,384.8 L574.0,385.0 L575.0,384.9 L576.0,384.7 L577.0,384.6 L578.0,384.7 L578.5,384.6 L579.0,384.5 L580.0,384.6 L581.0,384.4 L582.0,384.3 L583.0,384.2 L584.0,384.4 L585.0,384.6 L586.0,384.7 L587.0,384.7 L588.0,384.5 L589.0,384.8 L590.0,384.5 L591.0,384.7 L592.0,384.4 L593.0,384.6 L594.0,384.8 L595.0,384.4 L596.0,384.3 L597.0,384.6 L598.0,384.5 L599.0,384.4 L600.0,384.2 L601.0,384.4 L602.0,384.5 L603.0,384.4 L604.0,384.7 L605.0,384.6 L606.0,384.6 L607.0,384.7 L608.0,384.6 L609.0,384.5 L610.0,384.6 L611.0,384.6 L612.0,384.6 L613.0,384.6 L614.0,384.4 L615.0,384.6 L616.0,384.6 L617.0,384.8 L618.0,384.7 L619.0,384.7 L619.4,384.7 L620.0,384.7 L621.0,384.5 L622.0,384.3 L623.0,384.2 L624.0,384.4 L625.0,384.5 L626.0,384.2 L627.0,383.9 L628.0,384.3 L629.0,384.0 L630.0,384.0 L631.0,383.7 L632.0,383.9 L633.0,384.0 L634.0,383.7 L635.0,383.7 L636.0,383.8 L637.0,383.4 L638.0,383.6 L639.0,383.8 L640.0,383.6 L641.0,383.4 L642.0,383.5 L643.0,383.4 L644.0,383.1 L645.0,383.1 L646.0,383.4 L647.0,383.0 L648.0,382.9 L649.0,383.3 L650.0,383.0 L651.0,382.9 L652.0,382.9 L653.0,383.0 L654.0,382.6 L655.0,382.9 L656.0,382.9 L656.6,382.9 L657.0,382.6 L658.0,382.8 L659.0,382.6 L660.0,382.8 L661.0,382.6 L662.0,383.0 L663.0,383.1 L664.0,382.8 L665.0,382.8 L666.0,383.2 L667.0,383.1 L668.0,383.2 L669.0,388.6 L670.0,394.9 L671.0,394.6 L672.0,394.3 L673.0,394.2 L674.0,394.2 L675.0,394.0 L676.0,393.5 L677.0,393.6 L678.0,393.2 L679.0,393.5 L680.0,393.0 L681.0,393.1 L682.0,392.9 L683.0,392.6 L684.0,392.3 L685.0,392.2 L686.0,391.8 L686.4,391.8 L687.0,392.0 L688.0,391.7 L689.0,391.8 L690.0,391.3 L691.0,391.4 L692.0,391.3 L693.0,390.9 L694.0,390.6 L695.0,390.6 L696.0,390.6 L697.0,390.2 L698.0,390.1 L699.0,389.8 L700.0,390.0 L701.0,390.0 L702.0,389.5 L703.0,389.2 L704.0,389.5 L705.0,389.4 L706.0,388.5 L707.0,387.4 L708.0,386.3 L709.0,385.7 L710.0,384.3 L711.0,383.7 L712.0,383.4 L713.0,383.6 L714.0,383.8 L715.0,383.7 L716.0,383.7 L717.0,383.8 L718.0,384.2 L719.0,384.0 L720.0,384.1 L721.0,384.0 L722.0,384.3 L723.0,384.1 L724.0,384.3 L725.0,384.6 L726.0,384.7 L727.0,384.2 L728.0,384.7 L729.0,384.7 L730.0,384.5 L731.0,384.5 L732.0,384.7 L733.0,384.9 L734.0,384.6 L735.0,385.0 L736.0,384.9 L737.0,384.6 L738.0,385.1 L739.0,384.6 L740.0,384.7 L741.0,385.0 L742.0,384.7 L743.0,384.9 L744.0,384.8 L745.0,385.0 L746.0,385.3 L747.0,385.4 L748.0,384.9 L749.0,384.9 L750.0,385.4 L751.0,385.0 L752.0,385.1 L753.0,385.1 L754.0,385.1 L755.0,385.1 L756.0,385.5 L757.0,385.6 L758.0,385.6 L759.0,385.8 L760.0,385.7 L761.0,385.6 L762.0,385.8 L763.0,386.1 L764.0,385.9 L765.0,385.7 L766.0,385.7 L767.0,386.3 L768.0,386.1 L769.0,386.0 L770.0,386.2 L771.0,386.3 L772.0,386.3 L773.0,386.1 L774.0,386.3 L775.0,386.5 L776.0,386.5 L777.0,387.1 L778.0,386.9 L779.0,387.2 L780.0,387.4 L781.0,387.6 L782.0,387.7 L783.0,387.9 L784.0,387.7 L785.0,388.3 L786.0,388.0 L787.0,388.6 L788.0,388.7 L789.0,388.8 L790.0,388.5 L791.0,388.7 L792.0,389.2 L793.0,389.2 L794.0,389.5 L795.0,390.2 L796.0,389.9 L797.0,390.6 L798.0,390.8 L799.0,391.0 L800.0,391.5 L801.0,392.0 L802.0,392.5 L803.0,392.3 L804.0,392.9 L805.0,392.9 L806.0,393.5 L807.0,393.3 L808.0,393.5 L809.0,393.9 L810.0,394.3 L811.0,394.3 L812.0,394.4 L813.0,395.0 L814.0,395.3 L815.0,395.5 L816.0,395.4 L817.0,395.7 L818.0,395.8 L819.0,396.2 L820.0,396.3 L821.0,396.5 L822.0,396.8 L823.0,397.0 L824.0,396.9 L825.0,396.6 L826.0,397.0 L827.0,397.0 L828.0,397.4 L829.0,397.3 L830.0,397.4 L831.0,397.4 L832.0,397.4 L833.0,397.7 L834.0,397.7 L835.0,397.2 L836.0,396.9 L837.0,396.9 L838.0,396.8 L839.0,396.3 L840.0,396.3 L841.0,396.2 L842.0,395.7 L843.0,396.0 L844.0,395.7 L845.0,395.3 L846.0,395.1 L847.0,395.0 L848.0,394.8 L849.0,394.8 L850.0,394.7 L851.0,394.7 L852.0,394.5 L853.0,395.0 L854.0,394.6 L855.0,394.7 L856.0,394.5 L857.0,395.1 L858.0,394.8 L859.0,395.0 L860.0,395.1 L861.0,395.3 L862.0,395.5 L863.0,395.8 L864.0,396.0 L865.0,396.1 L866.0,396.0 L867.0,396.4 L868.0,396.7 L869.0,397.2 L870.0,397.1 L871.0,397.2 L872.0,397.2 L873.0,397.1 L874.0,397.5 L875.0,397.4 L876.0,397.3 L877.0,397.4 L878.0,397.8 L879.0,397.6 L880.0,397.4 L881.0,397.5 L882.0,397.9 L883.0,397.9 L884.0,398.1 L885.0,397.8 L886.0,398.0 L887.0,398.2 L888.0,397.9 L889.0,398.0 L890.0,398.3 L891.0,398.2 L892.0,398.2 L893.0,398.3 L894.0,398.6 L895.0,398.6 L896.0,398.4 L896.5,398.4 L897.0,398.9 L898.0,398.9 L899.0,398.7 L900.0,399.2 L901.0,398.7 L902.0,399.0 L903.0,399.4 L904.0,399.3 L905.0,399.1 L906.0,399.6 L907.0,399.5 L908.0,399.7 L909.0,399.8 L910.0,399.6 L911.0,399.8 L912.0,399.8 L913.0,400.1 L914.0,400.1 L915.0,400.1 L916.0,400.2 L917.0,400.4 L918.0,400.0 L919.0,400.1 L920.0,400.4 L921.0,400.5 L922.0,400.4 L923.0,400.5 L924.0,400.5 L924.4,400.8 L925.0,400.8 L926.0,400.7 L927.0,400.4 L928.0,400.9 L929.0,400.7 L930.0,400.5 L931.0,400.6 L932.0,400.9 L933.0,400.5 L934.0,400.6 L935.0,400.7 L936.0,401.1 L937.0,401.1 L938.0,401.2 L939.0,401.0 L940.0,401.0 L941.0,401.0 L942.0,401.0 L943.0,401.1 L944.0,401.3 L945.0,401.4 L946.0,401.1 L947.0,401.2 L948.0,401.1 L949.0,401.1 L950.0,401.2 L951.0,401.3 L952.0,401.3 L953.0,401.6 L954.0,401.1 L955.0,401.4 L956.0,401.7 L957.0,401.5 L958.0,401.5 L959.0,401.4 L960.0,401.4 L961.0,401.7 L961.6,401.7 L962.0,401.6 L963.0,401.8 L964.0,401.9 L965.0,401.9 L966.0,401.6 L967.0,401.7 L968.0,402.0 L969.0,401.8 L970.0,402.1 L971.0,401.9 L972.0,401.9 L973.0,402.0 L974.0,401.9 L975.0,402.1 L976.0,402.2 L977.0,402.0 L978.0,402.1 L979.0,402.2 L980.0,402.6 L981.0,402.5 L982.0,402.4 L983.0,402.8 L984.0,402.4 L985.0,402.6 L986.0,402.8 L987.0,402.8 L988.0,402.7 L989.0,403.0 L990.0,402.9 L991.0,403.1 L992.0,403.0 L993.0,403.3 L994.0,403.2 L995.0,402.9 L996.0,402.9 L997.0,403.5 L998.0,403.1 L999.0,403.0 L1000.0,403.2 L1001.0,403.4 L1001.0,494.4 Z" fill="#f9d196"/>
<path d="M83.0,494.4 L83.0,426.2 L83.7,426.2 L84.0,425.1 L85.0,424.7 L86.0,425.2 L87.0,424.7 L88.0,424.3 L89.0,423.5 L90.0,423.5 L91.0,423.1 L92.0,422.7 L93.0,421.8 L94.0,421.7 L95.0,421.3 L96.0,421.3 L97.0,421.3 L98.0,420.9 L98.6,420.2 L99.0,419.9 L100.0,419.5 L101.0,418.9 L102.0,418.7 L103.0,419.0 L104.0,418.5 L105.0,418.4 L106.0,418.7 L107.0,418.1 L108.0,417.8 L109.0,417.2 L110.0,416.7 L111.0,416.8 L112.0,416.4 L113.0,416.6 L114.0,416.9 L115.0,416.3 L116.0,415.4 L117.0,416.0 L117.2,415.9 L118.0,415.7 L119.0,415.9 L120.0,415.7 L121.0,415.6 L122.0,415.1 L123.0,415.8 L124.0,415.7 L125.0,414.7 L126.0,415.3 L127.0,415.2 L128.0,414.9 L129.0,414.9 L130.0,414.8 L131.0,415.3 L132.0,414.7 L133.0,415.0 L134.0,414.4 L135.0,415.0 L135.8,415.0 L136.0,414.4 L137.0,414.4 L138.0,414.6 L139.0,414.2 L140.0,413.7 L141.0,413.2 L142.0,413.1 L143.0,413.4 L144.0,412.6 L145.0,413.3 L146.0,412.3 L147.0,412.9 L148.0,412.0 L149.0,412.6 L150.0,412.1 L150.7,411.7 L151.0,411.8 L152.0,412.1 L153.0,412.1 L154.0,411.9 L155.0,411.9 L156.0,412.4 L157.0,413.1 L158.0,412.8 L158.1,412.2 L159.0,413.1 L160.0,413.0 L161.0,413.2 L162.0,412.3 L163.0,413.0 L164.0,412.2 L165.0,412.9 L166.0,412.4 L167.0,412.4 L168.0,413.2 L169.0,412.2 L170.0,412.7 L171.0,413.1 L172.0,412.4 L173.0,412.4 L174.0,412.7 L175.0,411.8 L176.0,411.7 L177.0,410.5 L178.0,410.4 L179.0,409.8 L180.0,410.0 L181.0,408.8 L182.0,409.5 L183.0,407.9 L184.0,408.4 L184.2,407.4 L185.0,407.5 L186.0,407.8 L187.0,406.7 L188.0,406.4 L189.0,406.7 L190.0,406.1 L191.0,405.4 L192.0,406.2 L193.0,404.9 L194.0,404.4 L195.0,404.5 L196.0,404.5 L197.0,404.3 L198.0,403.3 L199.0,403.2 L199.1,402.8 L200.0,403.2 L201.0,403.4 L202.0,403.2 L203.0,403.2 L204.0,402.9 L205.0,402.8 L206.0,402.5 L207.0,402.0 L208.0,401.5 L209.0,401.9 L210.0,401.3 L210.2,401.0 L211.0,401.3 L212.0,401.7 L213.0,400.6 L214.0,401.0 L215.0,400.6 L216.0,400.6 L217.0,400.0 L218.0,400.8 L219.0,399.8 L220.0,400.1 L221.0,399.7 L221.4,399.1 L222.0,399.7 L223.0,399.0 L224.0,398.7 L225.0,398.5 L226.0,398.5 L227.0,398.3 L228.0,398.7 L229.0,398.4 L230.0,398.8 L231.0,398.6 L232.0,398.5 L232.6,397.5 L233.0,396.2 L234.0,392.2 L235.0,388.9 L236.0,385.1 L237.0,382.4 L238.0,379.3 L239.0,375.7 L240.0,372.9 L241.0,372.2 L242.0,370.7 L243.0,369.9 L244.0,369.5 L245.0,369.0 L246.0,369.6 L247.0,369.0 L248.0,368.7 L249.0,368.7 L250.0,368.6 L251.0,368.5 L252.0,368.7 L253.0,368.5 L254.0,368.3 L254.7,368.6 L255.0,368.0 L256.0,368.8 L257.0,368.9 L258.0,368.6 L259.0,368.2 L260.0,368.2 L261.0,368.3 L262.0,367.6 L263.0,368.0 L264.0,368.1 L265.0,367.7 L266.0,367.5 L267.0,368.3 L268.0,367.8 L269.0,367.9 L270.0,368.4 L271.0,368.0 L272.0,367.5 L273.0,368.2 L274.0,367.3 L275.0,366.7 L276.0,367.4 L277.0,366.5 L278.0,366.6 L279.0,367.0 L280.0,366.7 L281.0,365.7 L282.0,366.1 L283.0,365.9 L284.0,365.8 L285.0,365.3 L286.0,365.6 L287.0,364.8 L288.0,364.9 L288.9,364.8 L289.0,365.6 L290.0,365.8 L291.0,367.9 L292.0,368.4 L293.0,370.1 L294.0,372.3 L295.0,374.7 L296.0,377.5 L297.0,379.5 L298.0,381.5 L298.3,382.2 L299.0,382.0 L300.0,382.7 L301.0,382.2 L302.0,382.3 L303.0,381.7 L304.0,380.7 L305.0,381.2 L306.0,381.1 L307.0,380.8 L308.0,380.3 L309.0,379.8 L309.4,379.8 L310.0,380.0 L311.0,378.8 L312.0,378.6 L313.0,378.1 L314.0,378.1 L315.0,377.4 L316.0,377.1 L317.0,376.5 L318.0,375.3 L318.7,374.9 L319.0,375.1 L320.0,374.6 L321.0,374.5 L322.0,374.6 L323.0,374.6 L324.0,374.0 L325.0,374.0 L326.0,372.9 L327.0,373.0 L328.0,373.5 L329.0,372.2 L330.0,372.3 L331.0,371.6 L332.0,371.4 L333.0,372.1 L334.0,372.0 L335.0,371.3 L336.0,370.5 L337.0,370.4 L337.3,370.3 L338.0,370.7 L339.0,370.6 L340.0,370.3 L341.0,370.3 L342.0,369.7 L343.0,370.1 L344.0,370.5 L345.0,370.1 L346.0,369.2 L347.0,369.6 L348.0,369.8 L349.0,369.1 L350.0,369.8 L351.0,369.2 L352.0,369.3 L353.0,368.9 L354.0,369.5 L355.0,369.1 L355.9,368.8 L356.0,368.3 L357.0,369.0 L358.0,368.8 L359.0,369.7 L360.0,370.4 L361.0,369.9 L362.0,370.5 L363.0,370.8 L364.0,371.0 L365.0,371.7 L366.0,372.3 L367.0,372.3 L368.0,372.3 L369.0,373.2 L370.0,372.7 L371.0,373.5 L372.0,373.7 L373.0,374.2 L374.0,374.6 L374.5,374.0 L375.0,374.8 L376.0,375.4 L377.0,376.5 L378.0,377.7 L379.0,378.0 L380.0,378.1 L381.0,379.4 L382.0,380.5 L383.0,381.5 L383.8,381.9 L384.0,382.2 L385.0,382.1 L386.0,384.1 L387.0,384.6 L388.0,385.3 L389.0,386.5 L390.0,387.3 L391.0,387.2 L392.0,388.9 L393.0,389.7 L394.0,389.8 L395.0,391.3 L396.0,392.4 L397.0,393.1 L398.0,395.1 L399.0,395.6 L400.0,397.4 L401.0,398.4 L402.0,399.5 L403.0,401.1 L404.0,402.2 L405.0,403.1 L406.0,405.3 L407.0,405.5 L408.0,406.7 L408.6,408.0 L409.0,408.6 L410.0,409.0 L411.0,409.8 L412.0,410.0 L413.0,410.9 L414.0,411.1 L415.0,411.6 L416.0,412.5 L417.0,412.5 L417.9,413.1 L418.0,414.0 L419.0,413.9 L420.0,415.2 L421.0,415.8 L422.0,416.0 L423.0,416.9 L424.0,417.6 L425.0,418.3 L426.0,418.0 L427.0,418.7 L427.2,419.1 L428.0,419.6 L429.0,420.0 L430.0,420.3 L431.0,421.6 L432.0,422.7 L433.0,422.5 L434.0,423.3 L435.0,423.8 L436.0,424.4 L436.5,425.2 L437.0,424.7 L438.0,425.4 L439.0,425.5 L440.0,425.9 L441.0,426.7 L442.0,425.9 L443.0,427.1 L444.0,426.8 L445.0,427.5 L445.8,428.0 L446.0,427.8 L447.0,427.6 L448.0,428.2 L449.0,427.4 L450.0,428.2 L451.0,428.0 L452.0,428.2 L453.0,428.7 L454.0,428.8 L455.0,428.6 L455.1,428.3 L456.0,428.4 L457.0,428.8 L458.0,428.7 L459.0,429.0 L460.0,430.0 L461.0,429.2 L462.0,430.2 L463.0,429.9 L464.0,430.1 L464.4,430.1 L465.0,429.9 L466.0,430.6 L467.0,430.4 L468.0,431.0 L469.0,431.0 L470.0,431.9 L471.0,432.2 L472.0,431.8 L473.0,432.2 L473.7,432.7 L474.0,432.1 L475.0,432.1 L476.0,432.6 L477.0,432.9 L478.0,433.8 L479.0,433.8 L479.3,433.8 L480.0,434.4 L481.0,433.8 L482.0,434.6 L483.0,434.4 L484.0,434.2 L485.0,434.8 L486.0,434.3 L487.0,435.0 L488.0,435.2 L489.0,434.7 L490.0,435.1 L491.0,435.4 L492.0,435.3 L492.3,435.3 L493.0,435.4 L494.0,435.5 L495.0,435.3 L496.0,435.6 L497.0,434.7 L498.0,435.1 L499.0,435.2 L500.0,434.8 L501.0,434.9 L502.0,434.6 L503.0,435.5 L504.0,434.8 L505.0,435.0 L506.0,435.5 L507.0,434.6 L508.0,435.6 L509.0,434.6 L510.0,434.4 L511.0,434.8 L512.0,434.8 L513.0,435.5 L514.0,435.5 L515.0,435.3 L516.0,434.9 L517.0,435.1 L518.0,434.7 L519.0,435.4 L520.0,434.9 L521.0,434.7 L522.0,435.2 L523.0,434.6 L524.0,434.8 L525.0,435.5 L526.0,434.5 L527.0,434.6 L528.0,434.6 L529.0,434.7 L529.5,434.9 L530.0,434.6 L531.0,434.5 L532.0,434.2 L533.0,434.0 L534.0,434.2 L535.0,433.7 L536.0,433.5 L537.0,433.8 L538.0,432.7 L538.8,432.7 L539.0,433.5 L540.0,432.9 L541.0,433.3 L542.0,432.4 L543.0,432.8 L544.0,433.2 L545.0,432.5 L546.0,432.9 L547.0,432.7 L548.0,432.3 L549.0,433.0 L550.0,432.2 L551.0,432.2 L552.0,432.3 L553.0,420.1 L553.4,415.9 L554.0,415.5 L555.0,415.3 L556.0,415.1 L557.0,415.4 L558.0,415.2 L559.0,414.9 L560.0,414.2 L561.0,414.0 L562.0,413.9 L563.0,413.2 L563.6,413.1 L564.0,414.1 L565.0,412.9 L566.0,413.7 L567.0,413.2 L568.0,413.3 L569.0,412.1 L570.0,412.2 L571.0,412.6 L572.0,411.4 L573.0,411.4 L574.0,411.5 L575.0,411.1 L576.0,410.8 L577.0,411.3 L578.0,410.4 L578.5,411.4 L579.0,411.1 L580.0,410.5 L581.0,411.6 L582.0,411.0 L583.0,411.4 L584.0,411.7 L585.0,411.3 L586.0,411.9 L587.0,411.5 L588.0,411.8 L589.0,412.8 L590.0,412.9 L591.0,412.7 L591.5,412.9 L592.0,413.2 L593.0,412.4 L594.0,413.0 L595.0,412.7 L596.0,412.8 L597.0,412.9 L598.0,413.1 L599.0,413.1 L600.0,413.4 L601.0,413.7 L602.0,414.1 L603.0,414.5 L604.0,414.7 L605.0,414.6 L606.0,414.5 L606.4,415.0 L607.0,416.0 L608.0,419.2 L609.0,423.3 L610.0,426.3 L611.0,429.1 L612.0,429.4 L613.0,429.5 L614.0,429.8 L615.0,429.9 L616.0,430.1 L617.0,430.7 L618.0,430.9 L619.0,430.7 L620.0,430.8 L621.0,430.7 L622.0,431.4 L623.0,431.9 L623.1,431.0 L624.0,431.6 L625.0,431.7 L626.0,431.7 L627.0,431.0 L628.0,431.7 L629.0,431.3 L630.0,431.3 L631.0,431.9 L632.0,432.0 L633.0,432.0 L634.0,432.2 L635.0,432.3 L636.0,432.0 L637.0,431.6 L638.0,432.5 L639.0,432.5 L640.0,432.4 L641.0,432.1 L642.0,431.3 L643.0,431.4 L644.0,431.2 L645.0,431.8 L646.0,431.6 L647.0,431.1 L648.0,431.9 L649.0,431.9 L650.0,431.2 L651.0,430.0 L652.0,429.2 L653.0,428.5 L654.0,428.6 L655.0,427.8 L656.0,426.7 L656.6,427.1 L657.0,426.5 L658.0,425.9 L659.0,425.5 L660.0,425.5 L661.0,424.8 L662.0,424.6 L663.0,423.6 L664.0,423.9 L665.0,423.0 L665.9,423.4 L666.0,422.5 L667.0,422.4 L668.0,422.3 L669.0,421.8 L670.0,421.7 L671.0,421.9 L672.0,420.7 L673.0,421.1 L674.0,420.7 L675.0,420.5 L675.2,420.0 L676.0,419.9 L677.0,419.6 L678.0,419.5 L679.0,419.1 L680.0,418.8 L681.0,419.0 L682.0,418.4 L683.0,418.6 L684.0,418.5 L685.0,418.0 L686.0,417.7 L687.0,418.0 L688.0,418.1 L689.0,417.2 L690.0,417.4 L691.0,417.2 L692.0,417.2 L693.0,416.7 L694.0,415.9 L695.0,415.5 L696.0,416.0 L697.0,415.1 L698.0,414.5 L699.0,415.2 L700.0,414.1 L701.0,414.0 L702.0,413.8 L703.0,413.5 L704.0,413.8 L705.0,413.1 L706.0,412.9 L707.0,412.7 L708.0,412.9 L709.0,411.7 L710.0,412.1 L711.0,411.3 L711.2,411.3 L712.0,412.1 L713.0,412.2 L714.0,412.1 L715.0,413.1 L716.0,413.8 L717.0,413.9 L718.0,414.0 L719.0,414.7 L720.0,415.2 L721.0,414.6 L722.0,415.2 L722.3,416.1 L723.0,416.1 L724.0,415.5 L725.0,416.3 L726.0,416.6 L727.0,416.5 L728.0,416.8 L729.0,416.8 L730.0,416.6 L731.0,416.8 L732.0,416.8 L733.0,417.7 L734.0,417.3 L735.0,418.0 L736.0,417.9 L737.0,418.2 L737.2,418.9 L738.0,418.5 L739.0,419.1 L740.0,419.4 L741.0,419.6 L742.0,420.1 L743.0,420.9 L744.0,421.6 L745.0,421.2 L746.0,422.7 L747.0,422.8 L748.0,422.5 L749.0,423.7 L750.0,423.8 L751.0,424.3 L752.0,424.3 L752.1,424.8 L753.0,425.2 L754.0,425.9 L755.0,426.1 L756.0,426.6 L757.0,427.1 L758.0,426.9 L759.0,427.1 L760.0,428.0 L761.0,428.0 L762.0,428.4 L763.0,429.1 L763.3,429.4 L764.0,429.5 L765.0,429.6 L766.0,429.9 L767.0,428.9 L768.0,429.5 L769.0,428.9 L770.0,429.6 L771.0,429.3 L772.0,429.0 L773.0,429.2 L774.0,429.6 L774.4,429.4 L775.0,430.0 L776.0,429.3 L777.0,429.3 L778.0,430.1 L779.0,429.7 L780.0,429.2 L781.0,430.1 L782.0,429.6 L783.0,430.4 L784.0,430.0 L785.0,430.3 L786.0,430.4 L787.0,430.0 L788.0,430.6 L789.0,429.5 L790.0,430.0 L791.0,430.6 L792.0,429.7 L793.0,430.5 L794.0,431.0 L795.0,430.7 L796.0,430.9 L797.0,430.0 L798.0,430.6 L799.0,430.8 L800.0,430.6 L801.0,430.6 L802.0,431.1 L803.0,430.4 L804.0,430.3 L805.0,431.1 L806.0,431.6 L807.0,431.4 L808.0,431.3 L809.0,430.9 L810.0,431.7 L811.0,430.7 L811.6,431.0 L812.0,431.7 L813.0,431.9 L814.0,431.5 L815.0,432.2 L816.0,431.4 L817.0,432.1 L818.0,431.6 L819.0,431.9 L820.0,431.9 L821.0,431.8 L822.0,432.4 L823.0,432.7 L824.0,432.5 L825.0,433.1 L826.0,432.5 L826.5,433.1 L827.0,432.9 L828.0,432.4 L829.0,432.7 L830.0,431.3 L831.0,431.3 L832.0,431.0 L833.0,430.5 L834.0,430.9 L835.0,430.3 L836.0,430.2 L837.0,430.0 L838.0,430.0 L839.0,430.5 L840.0,430.3 L841.0,430.1 L842.0,429.4 L843.0,429.9 L844.0,429.2 L845.0,429.5 L846.0,429.0 L847.0,429.8 L848.0,430.0 L848.8,429.6 L849.0,429.4 L850.0,428.8 L851.0,428.7 L852.0,428.5 L853.0,425.6 L854.0,422.6 L855.0,422.5 L856.0,423.1 L857.0,423.3 L858.0,423.0 L859.0,422.7 L860.0,422.0 L861.0,422.2 L862.0,422.8 L863.0,422.9 L864.0,422.3 L865.0,422.3 L866.0,422.4 L867.0,421.8 L868.0,422.3 L868.6,421.8 L869.0,422.4 L870.0,422.0 L871.0,422.3 L872.0,422.2 L873.0,422.3 L874.0,422.2 L875.0,422.9 L876.0,422.7 L877.0,422.3 L878.0,422.5 L879.0,423.0 L880.0,422.8 L881.0,422.8 L882.0,423.2 L883.0,422.2 L884.0,422.9 L885.0,422.9 L886.0,422.8 L887.0,423.4 L887.2,423.5 L888.0,422.9 L889.0,423.4 L890.0,423.8 L891.0,423.9 L892.0,423.7 L893.0,424.4 L894.0,424.1 L895.0,424.0 L896.0,424.8 L897.0,425.0 L898.0,424.9 L899.0,425.2 L900.0,426.0 L901.0,426.0 L902.0,425.7 L903.0,426.5 L904.0,426.3 L905.0,426.3 L905.8,426.8 L906.0,427.0 L907.0,427.7 L908.0,427.9 L909.0,428.4 L910.0,428.6 L911.0,428.7 L912.0,429.7 L913.0,429.8 L914.0,431.3 L915.0,431.1 L916.0,431.5 L917.0,431.8 L918.0,431.2 L919.0,432.1 L920.0,431.6 L921.0,431.4 L922.0,432.1 L923.0,432.0 L924.0,432.7 L925.0,432.2 L926.0,431.9 L927.0,431.9 L928.0,432.0 L929.0,432.6 L930.0,433.0 L931.0,432.3 L932.0,432.7 L933.0,433.0 L933.7,433.6 L934.0,433.7 L935.0,433.7 L936.0,433.6 L937.0,433.7 L938.0,433.4 L939.0,434.0 L940.0,433.6 L941.0,433.9 L942.0,434.7 L943.0,434.5 L944.0,434.9 L945.0,434.7 L946.0,434.6 L946.7,435.0 L947.0,435.0 L948.0,434.5 L949.0,435.1 L950.0,435.2 L951.0,434.1 L952.0,434.0 L953.0,434.6 L954.0,434.3 L955.0,433.6 L956.0,433.9 L957.0,433.4 L958.0,434.0 L959.0,433.5 L960.0,433.3 L961.0,432.8 L961.6,433.0 L962.0,433.0 L963.0,432.8 L964.0,432.5 L965.0,432.4 L966.0,432.9 L967.0,433.1 L968.0,432.9 L969.0,432.5 L970.0,432.6 L971.0,431.8 L972.0,431.7 L973.0,432.2 L974.0,431.3 L975.0,431.3 L976.0,432.0 L977.0,431.2 L978.0,431.1 L979.0,431.3 L980.0,431.7 L980.2,430.7 L981.0,431.7 L982.0,430.9 L983.0,431.1 L984.0,430.9 L985.0,430.4 L986.0,431.3 L987.0,430.3 L988.0,431.0 L989.0,431.0 L990.0,430.3 L991.0,430.9 L992.0,429.7 L993.0,429.7 L994.0,430.0 L995.0,429.4 L996.0,430.2 L997.0,429.8 L998.0,430.0 L999.0,429.3 L1000.0,428.9 L1001.0,429.9 L1001.0,494.4 Z" fill="#f8b17f"/>
<path d="M83.0,494.4 L83.0,454.0 L83.7,454.6 L84.0,454.2 L85.0,454.4 L86.0,454.2 L87.0,452.8 L88.0,452.5 L89.0,453.9 L90.0,452.5 L91.0,452.2 L92.0,453.4 L93.0,452.1 L94.0,452.6 L95.0,451.6 L96.0,451.7 L97.0,450.5 L98.0,451.2 L98.6,451.5 L99.0,450.7 L100.0,450.9 L101.0,450.4 L102.0,448.9 L103.0,450.0 L104.0,449.4 L105.0,448.5 L106.0,447.6 L107.0,449.0 L107.9,447.9 L108.0,448.5 L109.0,449.1 L110.0,449.1 L111.0,449.8 L112.0,449.0 L113.0,450.1 L114.0,449.7 L115.0,451.0 L116.0,451.2 L117.0,449.9 L117.2,450.1 L118.0,450.3 L119.0,451.9 L120.0,451.0 L121.0,451.4 L122.0,450.9 L123.0,451.4 L124.0,451.3 L125.0,451.3 L126.0,451.9 L127.0,452.0 L128.0,452.7 L129.0,452.4 L130.0,453.0 L131.0,452.9 L132.0,453.3 L133.0,452.8 L134.0,451.8 L135.0,453.3 L135.8,453.6 L136.0,453.5 L137.0,452.6 L138.0,452.7 L139.0,451.5 L140.0,452.6 L141.0,451.9 L142.0,451.1 L143.0,450.5 L144.0,451.9 L145.0,452.0 L146.0,450.0 L147.0,451.2 L148.0,450.2 L149.0,449.5 L150.0,449.6 L150.7,450.4 L151.0,450.5 L152.0,448.2 L153.0,448.7 L154.0,447.0 L155.0,447.7 L156.0,446.4 L157.0,446.9 L158.0,446.5 L159.0,444.9 L160.0,445.3 L161.0,444.4 L162.0,444.5 L163.0,446.0 L164.0,445.4 L165.0,446.2 L166.0,447.1 L167.0,448.1 L168.0,447.7 L169.0,447.9 L169.3,449.7 L170.0,449.0 L171.0,450.8 L172.0,451.1 L173.0,450.6 L174.0,451.3 L175.0,451.9 L176.0,452.6 L176.7,452.9 L177.0,452.6 L178.0,451.9 L179.0,451.7 L180.0,450.0 L181.0,449.0 L182.0,448.7 L183.0,446.9 L184.0,446.2 L185.0,446.8 L186.0,445.0 L187.0,444.2 L187.9,442.4 L188.0,443.2 L189.0,443.0 L190.0,441.4 L191.0,442.1 L192.0,441.6 L193.0,440.0 L194.0,440.6 L195.0,439.8 L195.3,440.1 L196.0,439.3 L197.0,440.0 L198.0,439.9 L199.0,438.4 L200.0,438.4 L201.0,439.5 L202.0,440.0 L203.0,438.5 L204.0,438.8 L205.0,439.0 L206.0,438.4 L206.5,438.4 L207.0,438.4 L208.0,438.7 L209.0,439.4 L210.0,439.0 L211.0,439.3 L212.0,440.3 L213.0,439.0 L214.0,440.2 L215.0,440.8 L216.0,440.1 L217.0,440.1 L218.0,441.5 L219.0,440.5 L220.0,440.6 L221.0,441.3 L221.4,441.9 L222.0,440.9 L223.0,441.7 L224.0,442.2 L225.0,443.5 L226.0,443.1 L227.0,444.3 L228.0,443.3 L228.8,444.0 L229.0,444.3 L230.0,443.5 L231.0,441.2 L232.0,439.5 L233.0,432.1 L234.0,425.8 L234.4,422.3 L235.0,422.2 L236.0,420.1 L237.0,416.6 L238.0,414.7 L238.7,414.2 L239.0,413.6 L240.0,413.1 L241.0,411.4 L242.0,410.1 L243.0,409.7 L244.0,409.8 L244.3,408.5 L245.0,408.3 L246.0,407.8 L247.0,407.2 L248.0,406.6 L249.0,407.0 L250.0,407.1 L251.0,408.4 L252.0,411.9 L253.0,413.4 L253.6,414.6 L254.0,414.4 L255.0,417.8 L256.0,420.0 L257.0,420.9 L258.0,424.3 L259.0,426.8 L259.2,426.9 L260.0,427.3 L261.0,427.6 L262.0,428.5 L263.0,429.1 L264.0,429.6 L265.0,431.4 L266.0,431.6 L267.0,433.4 L268.0,432.7 L268.5,434.8 L269.0,434.7 L270.0,435.9 L271.0,436.6 L272.0,437.3 L273.0,437.3 L274.0,436.9 L275.0,439.1 L276.0,438.7 L277.0,439.6 L277.8,440.9 L278.0,440.7 L279.0,440.6 L280.0,441.7 L281.0,441.2 L282.0,440.8 L283.0,440.7 L284.0,442.1 L285.0,441.4 L285.2,442.1 L286.0,440.8 L287.0,440.0 L288.0,440.2 L289.0,440.2 L290.0,438.4 L290.8,439.3 L291.0,439.4 L292.0,438.7 L293.0,438.2 L294.0,436.1 L295.0,436.8 L296.0,436.8 L297.0,434.7 L298.0,434.6 L299.0,434.1 L300.0,434.1 L300.1,433.8 L301.0,433.3 L302.0,433.2 L303.0,431.0 L304.0,430.4 L305.0,429.9 L306.0,429.2 L307.0,428.4 L308.0,429.5 L309.0,428.6 L309.4,426.8 L310.0,427.1 L311.0,425.8 L312.0,424.9 L313.0,424.1 L314.0,423.7 L315.0,422.7 L316.0,421.4 L317.0,420.1 L318.0,419.5 L318.7,418.4 L319.0,419.4 L320.0,419.8 L321.0,419.3 L322.0,418.8 L323.0,419.2 L324.0,419.7 L324.3,420.2 L325.0,420.7 L326.0,420.0 L327.0,421.0 L328.0,420.8 L329.0,420.6 L330.0,420.6 L331.0,421.0 L332.0,421.6 L333.0,421.2 L334.0,421.9 L335.0,421.6 L336.0,421.3 L337.0,422.0 L337.3,422.4 L338.0,421.5 L339.0,422.7 L340.0,423.2 L341.0,424.6 L342.0,425.2 L343.0,424.6 L344.0,426.1 L345.0,426.4 L346.0,425.8 L346.6,426.5 L347.0,426.1 L348.0,428.1 L349.0,428.4 L350.0,429.4 L351.0,429.8 L352.0,430.2 L353.0,430.9 L354.0,431.2 L355.0,430.9 L355.9,432.4 L356.0,431.3 L357.0,432.4 L358.0,434.4 L359.0,433.8 L360.0,434.7 L361.0,435.5 L362.0,437.9 L363.0,437.3 L364.0,437.8 L365.0,440.2 L365.2,438.9 L366.0,440.8 L367.0,440.9 L368.0,441.8 L369.0,442.5 L370.0,442.2 L371.0,443.2 L372.0,442.1 L373.0,444.1 L374.0,444.1 L374.5,444.7 L375.0,443.8 L376.0,445.6 L377.0,446.4 L378.0,445.2 L379.0,446.2 L380.0,447.2 L381.0,448.2 L382.0,447.6 L383.0,448.0 L383.8,448.5 L384.0,449.3 L385.0,450.1 L386.0,449.9 L387.0,450.3 L388.0,450.9 L389.0,451.3 L390.0,451.9 L391.0,451.7 L392.0,453.0 L393.0,454.5 L394.0,453.8 L395.0,455.0 L396.0,454.3 L397.0,455.8 L398.0,456.3 L399.0,456.6 L399.3,456.4 L400.0,456.5 L401.0,457.0 L402.0,457.7 L403.0,456.5 L404.0,456.6 L405.0,458.1 L406.0,458.6 L407.0,458.0 L408.0,458.1 L408.6,458.7 L409.0,457.7 L410.0,457.9 L411.0,457.8 L412.0,458.6 L413.0,458.1 L414.0,458.0 L415.0,459.0 L416.0,459.6 L417.0,458.3 L418.0,459.2 L419.0,458.6 L420.0,459.6 L421.0,459.1 L422.0,458.5 L423.0,458.4 L424.0,458.1 L425.0,459.1 L426.0,458.9 L427.0,458.5 L427.2,458.9 L428.0,458.9 L429.0,459.9 L430.0,458.8 L431.0,460.6 L432.0,459.6 L433.0,460.0 L434.0,459.8 L435.0,460.6 L436.0,460.7 L437.0,460.3 L438.0,460.2 L439.0,460.8 L440.0,461.2 L441.0,460.3 L442.0,461.1 L443.0,461.6 L444.0,460.8 L445.0,460.4 L445.8,460.5 L446.0,461.5 L447.0,461.5 L448.0,462.2 L449.0,462.2 L450.0,461.1 L451.0,461.2 L452.0,461.5 L453.0,461.5 L454.0,462.6 L455.0,463.1 L456.0,463.3 L457.0,462.2 L458.0,463.6 L459.0,462.6 L460.0,463.0 L461.0,463.7 L462.0,462.6 L463.0,462.8 L464.0,464.4 L464.4,463.4 L465.0,463.5 L466.0,464.0 L467.0,464.2 L468.0,462.8 L469.0,463.5 L470.0,463.7 L471.0,463.8 L472.0,463.2 L473.0,464.0 L474.0,464.7 L475.0,463.6 L476.0,463.9 L477.0,463.0 L478.0,463.3 L479.0,464.1 L480.0,463.0 L481.0,464.6 L482.0,464.6 L483.0,463.0 L484.0,464.7 L485.0,463.7 L486.0,464.5 L487.0,464.5 L488.0,463.7 L489.0,464.5 L490.0,464.5 L491.0,464.8 L492.0,463.8 L493.0,464.8 L494.0,465.3 L495.0,464.8 L496.0,464.6 L497.0,463.8 L498.0,464.6 L499.0,464.4 L500.0,465.2 L501.0,465.1 L501.6,464.9 L502.0,464.1 L503.0,465.0 L504.0,464.9 L505.0,464.0 L506.0,465.3 L507.0,464.8 L508.0,463.7 L509.0,465.3 L510.0,463.6 L511.0,464.0 L512.0,464.7 L513.0,464.4 L514.0,464.2 L515.0,464.4 L516.0,463.9 L517.0,463.6 L518.0,463.3 L519.0,463.0 L520.0,464.2 L520.2,464.3 L521.0,463.7 L522.0,463.9 L523.0,463.0 L524.0,462.6 L525.0,462.6 L526.0,463.4 L527.0,461.5 L528.0,462.3 L529.0,461.5 L530.0,462.4 L531.0,461.4 L532.0,461.1 L533.0,461.1 L534.0,461.1 L535.0,461.4 L536.0,460.4 L537.0,461.2 L538.0,459.5 L538.8,459.6 L539.0,459.3 L540.0,459.1 L541.0,460.3 L542.0,460.0 L543.0,458.8 L544.0,458.6 L545.0,458.9 L546.0,459.4 L547.0,459.4 L548.0,459.1 L549.0,458.6 L550.0,457.6 L550.6,450.6 L551.0,448.3 L552.0,444.4 L553.0,439.8 L554.0,439.1 L555.0,439.2 L556.0,440.3 L557.0,438.8 L558.0,440.3 L559.0,440.5 L560.0,440.6 L561.0,439.5 L561.7,439.8 L562.0,440.2 L563.0,441.2 L564.0,442.9 L565.0,443.3 L566.0,443.5 L567.0,445.6 L567.3,445.2 L568.0,447.3 L569.0,450.2 L570.0,451.4 L571.0,455.6 L572.0,458.0 L572.9,460.1 L573.0,460.2 L574.0,460.1 L575.0,459.7 L576.0,460.5 L577.0,459.6 L578.0,460.6 L579.0,461.0 L580.0,460.7 L581.0,461.0 L582.0,461.9 L582.2,461.8 L583.0,460.3 L584.0,461.6 L585.0,461.2 L586.0,460.1 L587.0,460.7 L588.0,460.5 L589.0,460.2 L590.0,461.1 L591.0,461.9 L591.5,460.6 L592.0,461.9 L593.0,462.0 L594.0,461.3 L595.0,463.1 L596.0,463.0 L597.0,464.1 L598.0,464.1 L599.0,464.5 L600.0,464.2 L600.8,465.4 L601.0,465.6 L602.0,465.3 L603.0,464.2 L604.0,464.7 L605.0,463.9 L606.0,463.0 L607.0,462.7 L608.0,462.5 L609.0,462.6 L610.0,462.3 L611.0,462.8 L612.0,463.0 L613.0,462.4 L614.0,462.0 L615.0,462.2 L616.0,461.3 L617.0,461.4 L618.0,461.8 L619.0,460.9 L619.4,460.4 L620.0,461.8 L621.0,461.4 L622.0,460.7 L623.0,460.7 L624.0,461.1 L625.0,461.2 L626.0,460.4 L627.0,460.0 L628.0,460.4 L628.7,461.6 L629.0,460.3 L630.0,460.9 L631.0,460.4 L632.0,460.4 L633.0,460.3 L634.0,460.8 L635.0,460.3 L636.0,460.1 L637.0,460.2 L638.0,460.3 L639.0,460.7 L640.0,459.5 L641.0,459.2 L642.0,459.7 L643.0,459.4 L644.0,459.7 L645.0,458.1 L646.0,458.5 L647.0,458.2 L647.3,457.4 L648.0,458.9 L649.0,457.0 L650.0,456.4 L651.0,456.7 L652.0,455.7 L653.0,456.2 L654.0,455.3 L655.0,454.4 L656.0,453.8 L656.6,455.0 L657.0,453.9 L658.0,454.7 L659.0,453.7 L660.0,454.3 L661.0,452.8 L662.0,452.4 L663.0,452.1 L664.0,452.9 L665.0,452.2 L665.9,451.4 L666.0,450.9 L667.0,452.0 L668.0,452.4 L669.0,451.6 L670.0,450.3 L671.0,450.3 L672.0,450.3 L673.0,450.4 L674.0,450.0 L675.0,449.9 L675.2,451.1 L676.0,451.8 L677.0,450.6 L678.0,452.3 L679.0,451.5 L680.0,452.4 L681.0,452.8 L682.0,453.1 L683.0,451.5 L684.0,452.2 L684.5,452.9 L685.0,453.6 L686.0,451.9 L687.0,452.3 L688.0,453.4 L689.0,451.9 L690.0,452.5 L691.0,452.4 L692.0,453.1 L693.0,453.6 L693.8,452.0 L694.0,453.2 L695.0,453.2 L696.0,453.4 L697.0,452.8 L698.0,453.5 L699.0,452.4 L700.0,452.5 L701.0,452.2 L702.0,453.3 L703.0,452.7 L704.0,452.2 L705.0,452.0 L706.0,453.6 L707.0,453.7 L708.0,454.4 L709.0,454.1 L709.3,454.5 L710.0,454.0 L711.0,455.4 L712.0,454.4 L713.0,455.5 L714.0,456.4 L715.0,456.6 L716.0,455.7 L717.0,456.3 L718.0,457.8 L718.6,457.6 L719.0,458.3 L720.0,458.9 L721.0,458.6 L722.0,460.1 L723.0,460.4 L724.0,460.2 L725.0,460.9 L726.0,460.9 L727.0,462.2 L727.9,463.8 L728.0,462.1 L729.0,463.1 L730.0,462.3 L731.0,462.4 L732.0,463.6 L733.0,462.9 L734.0,462.6 L735.0,462.9 L736.0,464.0 L737.0,464.0 L737.2,462.8 L738.0,463.2 L739.0,464.6 L740.0,463.0 L741.0,463.6 L742.0,463.2 L743.0,463.8 L744.0,463.4 L745.0,463.6 L746.0,463.0 L746.5,462.3 L747.0,462.3 L748.0,462.1 L749.0,463.6 L750.0,462.1 L751.0,461.9 L752.0,463.8 L753.0,462.3 L754.0,463.7 L755.0,462.1 L755.8,462.8 L756.0,462.3 L757.0,463.3 L758.0,462.7 L759.0,462.5 L760.0,462.6 L761.0,462.6 L762.0,461.3 L763.0,461.6 L764.0,461.1 L765.0,460.2 L765.1,461.7 L766.0,461.0 L767.0,461.3 L768.0,459.9 L769.0,460.3 L770.0,460.0 L771.0,460.3 L772.0,458.8 L773.0,459.2 L774.0,459.2 L774.4,458.3 L775.0,459.4 L776.0,459.8 L777.0,459.3 L778.0,459.8 L779.0,459.9 L780.0,459.2 L781.0,459.5 L782.0,460.9 L783.0,459.7 L783.7,460.0 L784.0,459.4 L785.0,459.9 L786.0,460.1 L787.0,462.0 L788.0,461.8 L789.0,462.4 L790.0,463.0 L791.0,462.5 L792.0,463.5 L793.0,463.0 L794.0,462.8 L795.0,464.0 L796.0,463.9 L797.0,464.1 L798.0,463.3 L799.0,463.9 L800.0,463.3 L801.0,464.5 L802.0,464.5 L803.0,463.3 L804.0,464.7 L804.2,463.2 L805.0,463.0 L806.0,464.3 L807.0,463.5 L808.0,464.0 L809.0,464.3 L810.0,463.2 L811.0,464.7 L812.0,463.8 L813.0,464.1 L814.0,464.0 L815.0,464.9 L816.0,464.9 L817.0,464.1 L818.0,463.7 L819.0,464.2 L820.0,464.5 L821.0,463.9 L822.0,464.1 L822.8,465.3 L823.0,465.0 L824.0,464.7 L825.0,463.8 L826.0,462.7 L827.0,460.9 L828.0,459.6 L829.0,459.0 L830.0,458.4 L830.2,458.4 L831.0,458.1 L832.0,457.4 L833.0,458.1 L834.0,456.6 L835.0,456.6 L836.0,457.1 L837.0,456.6 L838.0,455.2 L839.0,454.8 L840.0,455.6 L841.0,453.7 L841.4,453.8 L842.0,454.6 L843.0,454.8 L844.0,454.2 L845.0,454.1 L846.0,454.5 L847.0,455.8 L848.0,455.3 L848.8,456.5 L849.0,455.7 L850.0,454.4 L851.0,450.8 L852.0,449.4 L852.6,448.0 L853.0,448.7 L854.0,448.2 L855.0,447.3 L855.6,448.1 L856.0,447.2 L857.0,447.8 L858.0,447.8 L859.0,449.0 L860.0,448.3 L861.0,448.1 L862.0,447.8 L863.0,448.7 L864.0,449.2 L864.9,449.4 L865.0,449.9 L866.0,450.3 L867.0,449.7 L868.0,450.1 L869.0,451.9 L870.0,452.6 L871.0,452.6 L872.0,453.9 L873.0,453.9 L874.0,453.9 L874.2,453.8 L875.0,454.5 L876.0,456.9 L877.0,458.5 L878.0,459.7 L879.0,460.0 L879.8,461.3 L880.0,461.8 L881.0,461.4 L882.0,460.7 L883.0,460.2 L884.0,460.2 L885.0,459.3 L886.0,459.1 L887.0,459.9 L888.0,460.3 L889.0,459.2 L890.0,458.7 L891.0,458.4 L892.0,458.4 L892.8,458.9 L893.0,458.2 L894.0,459.5 L895.0,458.0 L896.0,458.5 L897.0,459.2 L898.0,459.1 L899.0,460.2 L900.0,460.3 L901.0,460.7 L902.0,460.3 L902.1,459.2 L903.0,460.6 L904.0,461.0 L905.0,461.2 L906.0,461.2 L907.0,462.5 L908.0,463.3 L909.0,462.1 L910.0,463.6 L911.0,463.4 L911.4,463.8 L912.0,464.6 L913.0,464.8 L914.0,464.3 L915.0,463.5 L916.0,465.0 L917.0,463.6 L918.0,464.1 L919.0,465.0 L920.0,464.1 L921.0,464.1 L922.0,465.5 L923.0,465.6 L924.0,464.4 L924.4,464.6 L925.0,464.4 L926.0,464.3 L927.0,464.6 L928.0,466.2 L929.0,464.5 L930.0,464.9 L931.0,465.0 L932.0,464.9 L933.0,465.9 L934.0,466.4 L935.0,466.8 L936.0,466.5 L937.0,467.0 L938.0,465.5 L939.0,466.1 L939.3,467.5 L940.0,465.3 L941.0,465.0 L942.0,464.8 L943.0,463.7 L944.0,463.6 L945.0,461.9 L946.0,461.6 L947.0,462.4 L948.0,460.1 L949.0,461.0 L950.0,458.9 L950.5,460.2 L951.0,459.5 L952.0,459.4 L953.0,458.3 L954.0,458.0 L955.0,459.4 L956.0,458.1 L957.0,458.1 L958.0,459.2 L959.0,459.3 L960.0,457.5 L961.0,459.3 L961.6,458.4 L962.0,458.2 L963.0,457.9 L964.0,458.8 L965.0,460.3 L966.0,459.1 L967.0,459.1 L968.0,459.4 L969.0,459.7 L970.0,460.4 L970.9,461.8 L971.0,460.2 L972.0,460.4 L973.0,461.9 L974.0,462.0 L975.0,462.0 L976.0,460.5 L977.0,460.7 L978.0,461.9 L979.0,461.0 L980.0,461.4 L980.2,460.6 L981.0,460.1 L982.0,460.9 L983.0,461.8 L984.0,462.0 L985.0,461.7 L986.0,461.6 L987.0,461.8 L988.0,461.7 L989.0,462.0 L989.5,462.7 L990.0,461.2 L991.0,461.7 L992.0,462.1 L993.0,461.6 L994.0,459.9 L995.0,461.2 L996.0,460.6 L997.0,458.9 L998.0,458.8 L999.0,458.3 L1000.0,457.7 L1001.0,459.3 L1001.0,494.4 Z" fill="#f08a74"/>
<path d="M83.0,494.4 L83.0,474.3 L83.7,474.0 L84.0,474.7 L85.0,473.9 L86.0,473.6 L87.0,474.3 L88.0,475.5 L89.0,475.1 L90.0,474.9 L91.0,473.3 L92.0,474.0 L93.0,473.2 L94.0,472.8 L95.0,472.5 L96.0,472.7 L97.0,474.4 L98.0,474.0 L98.6,473.9 L99.0,473.6 L100.0,471.2 L101.0,470.8 L102.0,470.9 L102.3,470.9 L103.0,471.8 L104.0,472.7 L105.0,471.5 L106.0,473.7 L107.0,474.7 L107.9,475.0 L108.0,474.2 L109.0,475.2 L110.0,474.4 L111.0,476.8 L112.0,476.8 L113.0,476.2 L114.0,475.7 L115.0,477.5 L116.0,476.8 L117.0,477.9 L117.2,477.8 L118.0,476.8 L119.0,476.5 L120.0,476.9 L121.0,476.4 L122.0,475.6 L123.0,475.8 L124.0,477.1 L125.0,475.0 L126.0,474.9 L126.5,476.3 L127.0,475.5 L128.0,476.2 L129.0,476.2 L130.0,475.9 L131.0,477.7 L132.0,475.7 L133.0,476.4 L134.0,476.0 L135.0,477.2 L135.8,476.3 L136.0,476.4 L137.0,477.1 L138.0,475.6 L139.0,475.8 L140.0,476.4 L141.0,473.9 L142.0,473.4 L143.0,473.5 L144.0,474.5 L145.0,473.7 L146.0,472.4 L147.0,472.3 L148.0,471.5 L149.0,471.8 L150.0,470.4 L150.7,471.8 L151.0,472.4 L152.0,473.0 L153.0,472.8 L154.0,473.8 L155.0,471.8 L156.0,472.9 L157.0,475.0 L158.0,474.9 L159.0,474.4 L160.0,476.2 L161.0,475.5 L162.0,476.2 L163.0,475.1 L164.0,475.0 L165.0,475.9 L166.0,475.3 L167.0,476.1 L168.0,477.8 L169.0,476.4 L169.3,475.6 L170.0,475.4 L171.0,475.3 L172.0,476.5 L173.0,475.0 L174.0,474.4 L175.0,473.5 L176.0,475.4 L177.0,473.6 L178.0,472.6 L178.6,472.0 L179.0,471.8 L180.0,471.8 L181.0,472.9 L182.0,471.2 L183.0,470.7 L184.0,471.5 L185.0,470.6 L186.0,472.3 L187.0,469.7 L188.0,470.5 L189.0,470.9 L190.0,469.6 L191.0,470.8 L191.6,469.3 L192.0,468.8 L193.0,469.6 L194.0,468.9 L195.0,470.1 L196.0,470.0 L197.0,471.9 L198.0,472.0 L199.0,471.5 L200.0,470.5 L200.9,471.4 L201.0,471.3 L202.0,471.2 L203.0,471.1 L204.0,472.7 L205.0,470.8 L206.0,470.4 L207.0,472.7 L208.0,471.6 L209.0,472.7 L210.0,471.1 L210.2,472.3 L211.0,471.8 L212.0,472.3 L213.0,472.4 L214.0,471.9 L215.0,471.0 L216.0,471.5 L217.0,473.4 L218.0,473.6 L219.0,473.8 L220.0,472.5 L221.0,473.4 L221.4,473.9 L222.0,473.5 L223.0,473.9 L224.0,473.1 L225.0,473.5 L226.0,473.5 L227.0,472.4 L228.0,474.1 L229.0,474.2 L230.0,471.9 L231.0,469.6 L232.0,465.0 L233.0,459.6 L234.0,453.4 L234.4,453.7 L235.0,451.1 L236.0,452.2 L237.0,450.3 L237.8,447.9 L238.0,448.6 L239.0,452.2 L240.0,454.5 L241.0,457.4 L242.0,460.2 L242.4,459.4 L243.0,459.3 L244.0,462.6 L245.0,461.1 L246.0,464.2 L247.0,463.1 L248.0,465.8 L249.0,466.6 L249.9,467.6 L250.0,466.8 L251.0,467.9 L252.0,466.5 L253.0,468.0 L254.0,467.4 L255.0,469.2 L256.0,469.1 L257.0,468.7 L258.0,469.1 L259.0,468.1 L259.2,468.2 L260.0,470.0 L261.0,470.1 L262.0,471.5 L263.0,471.2 L264.0,470.4 L265.0,471.4 L266.0,472.8 L267.0,472.6 L268.0,471.6 L268.5,474.0 L269.0,473.9 L270.0,471.8 L271.0,472.9 L272.0,472.4 L273.0,473.3 L274.0,472.0 L275.0,471.6 L276.0,472.2 L277.0,473.3 L277.8,470.9 L278.0,471.0 L279.0,472.2 L280.0,472.7 L281.0,471.6 L282.0,471.3 L283.0,472.3 L284.0,471.9 L285.0,469.9 L286.0,471.9 L287.0,470.0 L288.0,470.2 L289.0,471.4 L290.0,470.2 L290.8,471.1 L291.0,469.4 L292.0,470.8 L293.0,468.6 L294.0,468.1 L295.0,468.6 L296.0,467.8 L297.0,467.9 L298.0,468.5 L299.0,467.6 L300.0,465.4 L300.1,466.1 L301.0,466.5 L302.0,466.2 L303.0,466.6 L304.0,465.8 L305.0,464.5 L306.0,464.8 L307.0,466.2 L308.0,464.7 L309.0,465.6 L309.4,466.1 L310.0,464.9 L311.0,464.7 L312.0,464.2 L313.0,463.1 L314.0,464.3 L315.0,462.8 L316.0,463.6 L317.0,461.7 L318.0,462.8 L319.0,462.3 L320.0,461.5 L320.6,460.8 L321.0,460.3 L322.0,462.5 L323.0,461.9 L324.0,463.3 L325.0,462.4 L326.0,462.8 L327.0,463.5 L328.0,465.8 L329.0,464.3 L330.0,466.4 L331.0,465.2 L332.0,465.9 L333.0,465.5 L334.0,466.3 L335.0,465.1 L336.0,466.1 L337.0,467.7 L337.3,465.8 L338.0,467.2 L339.0,466.7 L340.0,466.9 L341.0,466.5 L342.0,466.8 L343.0,469.5 L344.0,469.5 L345.0,469.7 L346.0,470.0 L346.6,470.6 L347.0,468.5 L348.0,469.5 L349.0,469.2 L350.0,469.3 L351.0,470.1 L352.0,469.6 L353.0,470.0 L354.0,467.7 L355.0,469.0 L355.9,469.0 L356.0,469.2 L357.0,469.4 L358.0,470.4 L359.0,469.5 L360.0,471.6 L361.0,470.8 L362.0,471.8 L363.0,473.0 L364.0,473.0 L365.0,472.5 L365.2,472.4 L366.0,473.0 L367.0,474.2 L368.0,475.5 L369.0,475.7 L370.0,474.8 L371.0,475.2 L372.0,476.7 L373.0,475.7 L374.0,476.5 L374.5,475.6 L375.0,476.1 L376.0,477.0 L377.0,477.4 L378.0,477.2 L379.0,476.5 L380.0,478.1 L381.0,477.2 L382.0,476.0 L383.0,475.8 L383.8,478.1 L384.0,478.2 L385.0,478.1 L386.0,477.3 L387.0,476.7 L388.0,476.2 L389.0,476.7 L390.0,476.7 L391.0,478.6 L392.0,478.6 L393.0,478.4 L394.0,476.8 L395.0,477.1 L396.0,477.4 L397.0,479.2 L398.0,477.3 L399.0,479.1 L400.0,479.0 L401.0,478.8 L402.0,480.0 L403.0,478.3 L404.0,479.1 L405.0,478.3 L406.0,478.3 L407.0,478.3 L408.0,479.1 L408.6,478.7 L409.0,478.6 L410.0,481.0 L411.0,479.3 L412.0,480.9 L413.0,480.4 L414.0,480.6 L415.0,480.4 L416.0,481.2 L417.0,481.1 L418.0,480.7 L419.0,480.4 L420.0,480.8 L421.0,480.9 L422.0,480.5 L423.0,480.4 L424.0,479.5 L425.0,481.4 L426.0,480.5 L427.0,479.5 L427.2,479.7 L428.0,481.6 L429.0,480.1 L430.0,480.5 L431.0,481.3 L432.0,481.8 L433.0,480.4 L434.0,480.6 L435.0,480.8 L436.0,479.8 L437.0,482.1 L438.0,479.9 L439.0,482.4 L440.0,480.3 L441.0,480.4 L442.0,482.2 L443.0,482.2 L444.0,480.7 L445.0,481.6 L445.8,481.4 L446.0,482.1 L447.0,480.7 L448.0,482.3 L449.0,482.8 L450.0,482.0 L451.0,482.6 L452.0,482.6 L453.0,481.2 L454.0,482.4 L455.0,482.4 L456.0,481.7 L457.0,480.5 L458.0,481.8 L459.0,482.6 L460.0,481.0 L461.0,481.9 L462.0,482.5 L463.0,481.8 L464.0,480.3 L465.0,481.8 L466.0,480.9 L467.0,482.4 L468.0,481.9 L469.0,481.0 L470.0,482.5 L471.0,481.8 L472.0,481.1 L473.0,482.4 L474.0,482.5 L475.0,482.5 L476.0,482.5 L477.0,481.9 L478.0,482.0 L479.0,481.8 L480.0,481.6 L481.0,482.8 L482.0,481.1 L483.0,480.4 L484.0,482.1 L485.0,481.5 L486.0,481.6 L487.0,481.8 L488.0,480.8 L489.0,480.7 L490.0,480.4 L491.0,482.2 L492.0,482.6 L493.0,482.0 L494.0,480.5 L495.0,482.7 L496.0,482.3 L497.0,481.5 L498.0,480.2 L499.0,482.4 L500.0,481.8 L501.0,481.8 L502.0,480.2 L503.0,482.1 L504.0,480.3 L505.0,481.4 L506.0,480.6 L507.0,481.1 L508.0,482.5 L509.0,482.1 L510.0,482.3 L511.0,481.0 L512.0,481.2 L513.0,481.8 L514.0,480.3 L515.0,481.3 L516.0,482.7 L517.0,482.2 L518.0,482.4 L519.0,481.0 L520.0,482.0 L521.0,481.9 L522.0,481.3 L523.0,480.3 L524.0,479.3 L525.0,478.5 L526.0,480.4 L527.0,480.2 L528.0,478.2 L529.0,479.1 L530.0,477.8 L531.0,478.0 L532.0,478.2 L533.0,476.5 L534.0,477.0 L535.0,475.7 L536.0,476.0 L537.0,474.4 L538.0,474.7 L538.8,474.4 L539.0,476.1 L540.0,474.4 L541.0,476.3 L542.0,474.9 L543.0,477.6 L544.0,475.7 L545.0,475.8 L546.0,475.3 L547.0,476.4 L548.0,474.9 L549.0,474.7 L550.0,472.9 L551.0,471.1 L552.0,470.8 L553.0,470.3 L554.0,470.9 L554.3,468.5 L555.0,469.9 L556.0,473.1 L557.0,472.9 L558.0,476.8 L559.0,476.7 L559.9,478.9 L560.0,479.1 L561.0,479.9 L562.0,477.9 L563.0,480.1 L564.0,478.5 L565.0,480.0 L566.0,478.4 L567.0,480.4 L568.0,479.1 L569.0,479.3 L570.0,479.0 L571.0,479.9 L572.0,480.0 L572.9,481.9 L573.0,480.9 L574.0,480.0 L575.0,481.4 L576.0,479.1 L577.0,479.0 L578.0,480.7 L579.0,480.5 L580.0,479.6 L581.0,480.2 L582.0,477.6 L582.2,479.7 L583.0,479.4 L584.0,479.4 L585.0,480.0 L586.0,478.2 L587.0,478.6 L588.0,478.6 L589.0,479.7 L590.0,480.0 L591.0,480.1 L592.0,479.8 L593.0,481.0 L594.0,481.4 L595.0,481.3 L596.0,479.6 L597.0,480.0 L598.0,480.3 L599.0,480.5 L600.0,481.6 L600.8,480.7 L601.0,481.8 L602.0,480.7 L603.0,480.5 L604.0,481.1 L605.0,481.4 L606.0,479.1 L607.0,479.2 L608.0,480.6 L609.0,478.3 L610.0,477.5 L610.1,477.9 L611.0,479.7 L612.0,479.7 L613.0,480.4 L614.0,479.5 L615.0,478.5 L616.0,479.4 L617.0,480.7 L618.0,480.0 L619.0,479.6 L619.4,480.3 L620.0,480.5 L621.0,480.2 L622.0,480.5 L623.0,479.7 L624.0,479.4 L625.0,481.3 L626.0,481.2 L627.0,480.4 L628.0,479.6 L629.0,480.1 L630.0,480.8 L631.0,481.6 L632.0,480.6 L633.0,481.8 L634.0,480.7 L635.0,479.8 L636.0,480.9 L637.0,480.9 L638.0,480.9 L639.0,480.8 L640.0,478.7 L641.0,479.4 L642.0,480.0 L643.0,477.9 L644.0,477.3 L645.0,477.3 L646.0,477.2 L647.0,477.3 L648.0,476.6 L649.0,477.1 L650.0,475.5 L651.0,475.7 L652.0,476.2 L653.0,475.5 L654.0,476.2 L655.0,475.8 L656.0,473.7 L656.6,473.7 L657.0,474.4 L658.0,474.9 L659.0,474.9 L660.0,476.7 L661.0,475.5 L662.0,476.7 L663.0,476.3 L664.0,478.8 L665.0,478.5 L665.9,480.0 L666.0,477.8 L667.0,479.4 L668.0,479.2 L669.0,477.9 L670.0,480.0 L671.0,480.2 L672.0,478.3 L673.0,480.6 L674.0,480.3 L675.0,480.0 L675.2,479.8 L676.0,478.9 L677.0,478.1 L678.0,478.9 L679.0,479.7 L680.0,477.7 L681.0,478.2 L682.0,477.4 L683.0,478.2 L684.0,478.7 L685.0,478.3 L686.0,476.4 L686.4,476.7 L687.0,475.7 L688.0,477.3 L689.0,478.3 L690.0,478.5 L691.0,476.7 L692.0,477.8 L693.0,477.1 L694.0,478.2 L695.0,479.7 L696.0,478.2 L697.0,479.9 L698.0,480.4 L699.0,480.2 L700.0,478.8 L701.0,480.9 L702.0,481.1 L703.0,481.5 L704.0,479.1 L705.0,479.3 L706.0,479.6 L707.0,479.8 L708.0,479.1 L709.0,477.8 L709.3,479.1 L710.0,479.1 L711.0,479.0 L712.0,478.7 L713.0,478.8 L714.0,479.1 L715.0,477.5 L716.0,478.4 L717.0,477.6 L718.0,477.5 L719.0,479.2 L720.0,478.0 L721.0,478.1 L722.0,477.9 L723.0,478.7 L724.0,477.4 L725.0,478.8 L726.0,477.3 L727.0,479.5 L728.0,477.4 L729.0,479.0 L730.0,478.4 L731.0,478.1 L732.0,477.7 L733.0,477.9 L734.0,478.9 L735.0,478.3 L736.0,478.3 L737.0,477.5 L738.0,478.5 L739.0,477.3 L740.0,478.0 L741.0,478.5 L742.0,478.2 L743.0,478.2 L744.0,478.2 L744.7,477.2 L745.0,479.2 L746.0,478.5 L747.0,478.7 L748.0,479.3 L749.0,478.0 L750.0,477.7 L751.0,477.7 L752.0,477.8 L753.0,477.7 L754.0,477.8 L755.0,477.6 L756.0,478.3 L757.0,477.8 L758.0,478.1 L759.0,478.9 L760.0,478.0 L761.0,479.5 L762.0,479.3 L763.0,478.1 L764.0,479.5 L765.0,477.8 L766.0,477.6 L767.0,480.0 L768.0,477.5 L769.0,477.4 L770.0,479.7 L771.0,477.4 L772.0,479.1 L773.0,478.8 L774.0,478.0 L775.0,478.0 L776.0,479.9 L777.0,478.4 L778.0,478.0 L779.0,478.5 L780.0,479.3 L781.0,478.2 L782.0,477.6 L783.0,479.5 L783.7,477.6 L784.0,477.5 L785.0,477.4 L786.0,479.9 L787.0,478.5 L788.0,479.2 L789.0,478.7 L790.0,479.8 L791.0,478.1 L792.0,478.1 L793.0,479.0 L794.0,477.2 L795.0,478.1 L796.0,479.1 L797.0,478.6 L798.0,478.4 L799.0,479.5 L800.0,478.2 L801.0,479.0 L802.0,478.1 L803.0,477.2 L804.0,478.0 L805.0,477.5 L806.0,477.0 L807.0,477.7 L808.0,477.2 L809.0,478.1 L810.0,478.8 L811.0,478.8 L812.0,479.1 L813.0,477.6 L814.0,478.5 L815.0,479.1 L816.0,477.8 L817.0,479.1 L818.0,477.0 L819.0,479.1 L820.0,478.7 L821.0,478.7 L822.0,478.1 L823.0,477.5 L824.0,476.5 L825.0,477.0 L826.0,477.1 L827.0,476.1 L828.0,475.9 L829.0,476.4 L830.0,474.5 L830.2,474.6 L831.0,474.1 L832.0,476.6 L833.0,476.3 L834.0,476.7 L835.0,475.9 L836.0,476.1 L837.0,477.2 L838.0,478.6 L839.0,477.5 L840.0,478.0 L841.0,478.4 L841.4,479.6 L842.0,477.2 L843.0,478.3 L844.0,475.2 L845.0,476.1 L846.0,475.5 L847.0,473.8 L848.0,473.7 L849.0,471.6 L850.0,470.4 L851.0,470.1 L852.0,469.0 L853.0,469.4 L854.0,468.1 L854.4,468.0 L855.0,469.9 L856.0,471.2 L857.0,473.1 L858.0,475.4 L859.0,477.1 L860.0,478.5 L861.0,479.3 L862.0,480.0 L863.0,480.8 L864.0,481.2 L865.0,481.7 L866.0,481.5 L867.0,481.6 L868.0,480.7 L868.6,481.8 L869.0,480.5 L870.0,481.4 L871.0,479.8 L872.0,479.1 L873.0,481.1 L874.0,480.6 L875.0,478.8 L876.0,477.7 L877.0,479.4 L878.0,478.9 L879.0,477.0 L880.0,478.3 L881.0,478.0 L882.0,477.0 L883.0,475.9 L884.0,475.0 L885.0,474.6 L886.0,475.3 L887.0,475.6 L887.2,475.4 L888.0,474.5 L889.0,476.3 L890.0,474.7 L891.0,476.4 L892.0,475.6 L893.0,475.5 L894.0,476.3 L895.0,478.1 L896.0,476.9 L896.5,476.5 L897.0,478.0 L898.0,478.0 L899.0,479.0 L900.0,479.4 L901.0,480.1 L902.0,481.1 L903.0,480.0 L904.0,481.1 L905.0,480.2 L905.8,480.9 L906.0,480.5 L907.0,482.5 L908.0,481.2 L909.0,482.2 L910.0,482.7 L911.0,481.5 L912.0,481.0 L913.0,481.2 L914.0,481.9 L915.0,481.7 L916.0,480.9 L917.0,483.0 L918.0,482.5 L919.0,483.1 L920.0,483.1 L921.0,482.8 L922.0,483.1 L923.0,482.9 L924.0,482.2 L924.4,483.2 L925.0,483.4 L926.0,481.0 L927.0,480.9 L928.0,480.8 L929.0,481.3 L930.0,482.2 L931.0,481.1 L932.0,481.8 L933.0,480.3 L934.0,480.6 L935.0,479.6 L936.0,480.4 L937.0,479.2 L938.0,478.3 L939.0,479.1 L940.0,479.3 L941.0,480.0 L942.0,478.2 L943.0,479.7 L944.0,479.2 L945.0,477.3 L946.0,478.7 L946.7,478.9 L947.0,479.0 L948.0,478.5 L949.0,477.8 L950.0,478.3 L951.0,478.7 L952.0,478.8 L953.0,477.8 L954.0,479.7 L955.0,479.0 L956.0,477.9 L957.0,478.6 L958.0,478.2 L959.0,479.3 L960.0,478.4 L961.0,479.7 L961.6,479.1 L962.0,480.6 L963.0,480.4 L964.0,478.9 L965.0,480.5 L966.0,479.9 L967.0,479.1 L968.0,480.8 L969.0,478.4 L970.0,479.4 L971.0,480.0 L972.0,478.8 L973.0,479.7 L974.0,480.7 L975.0,479.3 L976.0,480.2 L977.0,478.9 L978.0,480.9 L979.0,480.9 L980.0,478.8 L980.2,480.4 L981.0,479.3 L982.0,478.6 L983.0,479.1 L984.0,480.5 L985.0,479.8 L986.0,480.0 L987.0,479.0 L988.0,479.2 L989.0,479.7 L990.0,480.2 L991.0,481.0 L992.0,480.1 L993.0,479.8 L994.0,481.4 L995.0,480.8 L996.0,481.0 L997.0,481.2 L998.0,480.4 L999.0,479.9 L1000.0,479.5 L1001.0,481.0 L1001.0,494.4 Z" fill="#de6a80"/>
<path d="M83.0,494.4 L83.0,490.2 L84.0,490.5 L85.0,490.6 L86.0,490.9 L87.0,490.5 L88.0,490.8 L89.0,489.1 L90.0,489.9 L91.0,490.9 L92.0,490.3 L93.0,490.8 L94.0,489.2 L95.0,489.9 L96.0,489.5 L97.0,490.1 L98.0,490.1 L99.0,489.0 L100.0,489.4 L101.0,489.6 L102.0,490.8 L103.0,490.5 L104.0,489.3 L105.0,490.6 L106.0,489.3 L107.0,490.2 L108.0,489.3 L109.0,489.0 L110.0,490.7 L111.0,489.4 L112.0,489.4 L113.0,491.0 L114.0,490.7 L115.0,489.6 L116.0,490.9 L117.0,490.1 L118.0,490.4 L119.0,489.4 L120.0,490.9 L121.0,490.4 L122.0,490.9 L123.0,490.8 L124.0,489.6 L125.0,489.7 L126.0,489.3 L127.0,489.3 L128.0,489.1 L129.0,489.6 L130.0,490.2 L131.0,489.0 L132.0,490.4 L133.0,489.7 L134.0,489.6 L135.0,490.6 L136.0,490.0 L137.0,489.6 L138.0,490.0 L139.0,490.4 L140.0,489.1 L141.0,491.0 L142.0,489.0 L143.0,490.5 L144.0,490.7 L145.0,489.0 L146.0,490.6 L147.0,489.7 L148.0,490.2 L149.0,489.0 L150.0,489.1 L151.0,489.4 L152.0,490.9 L153.0,489.4 L154.0,490.5 L155.0,490.9 L156.0,490.9 L157.0,489.7 L158.0,489.7 L159.0,490.0 L160.0,490.6 L161.0,489.2 L162.0,490.5 L163.0,490.6 L164.0,490.7 L165.0,489.1 L166.0,490.9 L167.0,489.2 L168.0,489.7 L169.0,490.2 L170.0,490.8 L171.0,489.7 L172.0,490.8 L173.0,490.1 L174.0,489.6 L175.0,489.6 L176.0,489.4 L177.0,489.2 L178.0,489.3 L179.0,490.4 L180.0,491.0 L181.0,489.3 L182.0,489.1 L183.0,491.0 L184.0,490.1 L185.0,489.8 L186.0,489.5 L187.0,490.2 L188.0,490.7 L189.0,489.9 L190.0,489.8 L191.0,489.1 L192.0,490.8 L193.0,489.1 L194.0,490.0 L195.0,490.7 L196.0,489.3 L197.0,490.5 L198.0,490.9 L199.0,490.3 L200.0,490.6 L201.0,489.2 L202.0,489.9 L203.0,489.3 L204.0,490.7 L205.0,489.6 L206.0,489.9 L207.0,491.0 L208.0,490.7 L209.0,491.0 L210.0,489.9 L211.0,490.0 L212.0,490.5 L213.0,490.0 L214.0,489.6 L215.0,489.8 L216.0,489.3 L217.0,489.8 L218.0,491.0 L219.0,490.9 L220.0,490.3 L221.0,490.0 L222.0,489.7 L223.0,489.2 L224.0,489.5 L225.0,490.6 L226.0,490.7 L227.0,489.7 L228.0,490.6 L229.0,490.5 L230.0,490.4 L231.0,488.6 L232.0,487.0 L233.0,484.5 L234.0,483.4 L235.0,482.6 L236.0,483.0 L237.0,483.5 L238.0,483.4 L239.0,482.6 L240.0,483.9 L241.0,484.3 L242.0,485.2 L243.0,485.0 L244.0,487.1 L245.0,487.5 L246.0,489.3 L247.0,488.9 L248.0,489.6 L249.0,489.3 L250.0,489.6 L251.0,488.7 L252.0,489.3 L253.0,489.5 L254.0,489.7 L255.0,488.7 L256.0,489.7 L257.0,489.8 L258.0,489.4 L259.0,490.0 L260.0,489.9 L261.0,489.1 L262.0,489.1 L263.0,488.4 L264.0,489.7 L265.0,489.9 L266.0,489.0 L267.0,489.4 L268.0,489.5 L269.0,489.5 L270.0,488.4 L271.0,489.6 L272.0,489.2 L273.0,489.4 L274.0,488.9 L275.0,489.3 L276.0,489.6 L277.0,489.3 L278.0,489.5 L279.0,488.1 L280.0,488.4 L281.0,488.9 L282.0,489.4 L283.0,488.5 L284.0,489.4 L285.0,489.3 L286.0,488.1 L287.0,489.0 L288.0,488.5 L289.0,488.2 L290.0,488.3 L291.0,488.7 L292.0,488.4 L293.0,488.5 L294.0,488.1 L295.0,489.0 L296.0,488.8 L297.0,489.3 L298.0,489.3 L299.0,488.6 L300.0,489.9 L301.0,488.1 L302.0,488.9 L303.0,488.6 L304.0,488.9 L305.0,488.3 L306.0,489.8 L307.0,488.8 L308.0,488.2 L309.0,489.3 L310.0,488.3 L311.0,489.2 L312.0,488.8 L313.0,489.3 L314.0,490.0 L315.0,489.7 L316.0,489.0 L317.0,489.7 L318.0,489.4 L319.0,488.9 L320.0,488.4 L321.0,489.3 L322.0,489.3 L323.0,490.0 L324.0,490.1 L325.0,489.3 L326.0,488.8 L327.0,489.9 L328.0,488.1 L329.0,488.4 L330.0,489.3 L331.0,489.4 L332.0,488.4 L333.0,489.4 L334.0,489.9 L335.0,488.9 L336.0,489.0 L337.0,488.6 L338.0,488.7 L339.0,490.1 L340.0,488.9 L341.0,490.1 L342.0,490.0 L343.0,489.3 L344.0,488.7 L345.0,490.1 L346.0,489.2 L347.0,489.0 L348.0,488.8 L349.0,490.1 L350.0,489.2 L351.0,488.7 L352.0,489.1 L353.0,488.4 L354.0,489.4 L355.0,489.1 L356.0,488.8 L357.0,489.7 L358.0,489.8 L359.0,488.2 L360.0,489.3 L361.0,488.7 L362.0,490.1 L363.0,489.8 L364.0,488.7 L365.0,488.7 L366.0,488.5 L367.0,490.2 L368.0,488.8 L369.0,489.4 L370.0,489.2 L371.0,489.5 L372.0,489.4 L373.0,489.7 L374.0,488.4 L375.0,489.7 L376.0,488.8 L377.0,489.3 L378.0,488.9 L379.0,488.8 L380.0,489.3 L381.0,489.1 L382.0,488.9 L383.0,489.7 L384.0,489.4 L385.0,488.3 L386.0,488.7 L387.0,489.1 L388.0,490.1 L389.0,490.0 L390.0,489.3 L391.0,488.3 L392.0,489.8 L393.0,489.1 L394.0,489.4 L395.0,489.7 L396.0,489.5 L397.0,489.2 L398.0,490.1 L399.0,489.0 L400.0,489.0 L401.0,490.0 L402.0,488.6 L403.0,488.8 L404.0,489.9 L405.0,488.4 L406.0,489.9 L407.0,489.7 L408.0,489.1 L409.0,488.8 L410.0,489.8 L411.0,490.1 L412.0,488.6 L413.0,489.2 L414.0,489.4 L415.0,489.3 L416.0,488.9 L417.0,488.6 L418.0,489.5 L419.0,489.9 L420.0,488.4 L421.0,488.7 L422.0,489.9 L423.0,489.9 L424.0,489.6 L425.0,488.3 L426.0,489.7 L427.0,490.3 L428.0,490.3 L429.0,489.7 L430.0,488.4 L431.0,490.0 L432.0,488.7 L433.0,489.6 L434.0,490.2 L435.0,489.7 L436.0,488.6 L437.0,488.9 L438.0,490.1 L439.0,488.6 L440.0,489.5 L441.0,489.1 L442.0,488.6 L443.0,489.6 L444.0,488.4 L445.0,488.5 L446.0,489.1 L447.0,488.5 L448.0,488.4 L449.0,489.5 L450.0,489.8 L451.0,490.1 L452.0,488.6 L453.0,489.2 L454.0,489.0 L455.0,489.5 L456.0,489.3 L457.0,490.2 L458.0,489.1 L459.0,488.5 L460.0,489.7 L461.0,488.7 L462.0,489.6 L463.0,489.4 L464.0,490.2 L465.0,489.5 L466.0,489.6 L467.0,488.9 L468.0,489.5 L469.0,488.9 L470.0,489.9 L471.0,489.4 L472.0,488.6 L473.0,488.8 L474.0,489.1 L475.0,489.8 L476.0,488.7 L477.0,489.8 L478.0,489.7 L479.0,488.5 L480.0,489.7 L481.0,488.6 L482.0,488.6 L483.0,489.6 L484.0,488.9 L485.0,490.1 L486.0,489.4 L487.0,489.0 L488.0,490.0 L489.0,488.5 L490.0,489.8 L491.0,488.5 L492.0,488.7 L493.0,490.3 L494.0,489.8 L495.0,488.9 L496.0,488.6 L497.0,490.4 L498.0,489.7 L499.0,490.1 L500.0,488.7 L501.0,489.7 L502.0,489.1 L503.0,488.9 L504.0,489.1 L505.0,489.6 L506.0,489.1 L507.0,489.2 L508.0,488.7 L509.0,490.1 L510.0,489.7 L511.0,490.0 L512.0,489.3 L513.0,490.1 L514.0,489.5 L515.0,489.6 L516.0,489.6 L517.0,489.9 L518.0,489.2 L519.0,488.6 L520.0,488.5 L521.0,488.9 L522.0,488.5 L523.0,490.2 L524.0,489.4 L525.0,490.0 L526.0,488.5 L527.0,489.4 L528.0,490.2 L529.0,489.7 L530.0,489.3 L531.0,489.4 L532.0,488.7 L533.0,488.8 L534.0,488.8 L535.0,489.2 L536.0,489.2 L537.0,490.2 L538.0,488.8 L539.0,489.0 L540.0,489.0 L541.0,488.8 L542.0,489.1 L543.0,489.0 L544.0,489.4 L545.0,488.6 L546.0,490.3 L547.0,489.2 L548.0,490.4 L549.0,489.9 L550.0,489.8 L551.0,489.4 L552.0,490.4 L553.0,488.7 L554.0,488.1 L555.0,485.6 L556.0,487.5 L557.0,488.8 L558.0,488.8 L559.0,488.9 L560.0,488.5 L561.0,489.0 L562.0,488.7 L563.0,489.3 L564.0,490.4 L565.0,489.2 L566.0,489.1 L567.0,489.4 L568.0,489.1 L569.0,490.0 L570.0,489.9 L571.0,488.8 L572.0,489.0 L573.0,489.8 L574.0,490.4 L575.0,489.8 L576.0,489.4 L577.0,490.5 L578.0,488.5 L579.0,488.6 L580.0,490.1 L581.0,489.3 L582.0,488.6 L583.0,489.6 L584.0,490.5 L585.0,489.5 L586.0,489.2 L587.0,488.7 L588.0,488.6 L589.0,490.3 L590.0,489.5 L591.0,490.4 L592.0,488.6 L593.0,489.0 L594.0,488.6 L595.0,489.3 L596.0,488.6 L597.0,489.0 L598.0,489.3 L599.0,489.1 L600.0,488.6 L601.0,488.6 L602.0,490.4 L603.0,488.9 L604.0,489.5 L605.0,489.3 L606.0,489.6 L607.0,488.7 L608.0,489.1 L609.0,488.7 L610.0,489.6 L611.0,490.3 L612.0,489.7 L613.0,490.2 L614.0,488.9 L615.0,488.5 L616.0,489.6 L617.0,489.5 L618.0,489.6 L619.0,489.3 L620.0,489.8 L621.0,490.0 L622.0,490.3 L623.0,489.1 L624.0,489.4 L625.0,490.2 L626.0,488.9 L627.0,488.7 L628.0,489.1 L629.0,488.7 L630.0,490.0 L631.0,490.1 L632.0,489.1 L633.0,488.8 L634.0,488.7 L635.0,489.0 L636.0,488.7 L637.0,489.4 L638.0,489.7 L639.0,489.0 L640.0,488.6 L641.0,489.9 L642.0,488.6 L643.0,488.9 L644.0,489.1 L645.0,489.2 L646.0,488.7 L647.0,489.3 L648.0,489.1 L649.0,490.0 L650.0,489.6 L651.0,490.3 L652.0,489.8 L653.0,490.0 L654.0,489.6 L655.0,489.4 L656.0,490.1 L657.0,489.8 L658.0,490.4 L659.0,490.0 L660.0,489.9 L661.0,489.0 L662.0,490.1 L663.0,489.3 L664.0,488.8 L665.0,488.6 L666.0,488.8 L667.0,489.0 L668.0,489.9 L669.0,489.1 L670.0,488.6 L671.0,490.0 L672.0,489.6 L673.0,488.6 L674.0,488.6 L675.0,488.8 L676.0,489.2 L677.0,490.2 L678.0,490.4 L679.0,489.7 L680.0,489.0 L681.0,489.4 L682.0,489.2 L683.0,489.2 L684.0,488.5 L685.0,489.7 L686.0,490.2 L687.0,490.0 L688.0,488.7 L689.0,489.6 L690.0,488.8 L691.0,489.9 L692.0,489.4 L693.0,490.4 L694.0,490.1 L695.0,488.7 L696.0,489.1 L697.0,490.3 L698.0,489.4 L699.0,489.4 L700.0,489.4 L701.0,490.0 L702.0,490.4 L703.0,489.6 L704.0,490.4 L705.0,489.7 L706.0,488.7 L707.0,490.1 L708.0,489.3 L709.0,488.6 L710.0,490.5 L711.0,488.6 L712.0,489.7 L713.0,489.5 L714.0,490.3 L715.0,489.3 L716.0,488.9 L717.0,489.1 L718.0,488.9 L719.0,489.6 L720.0,489.2 L721.0,490.0 L722.0,489.0 L723.0,489.2 L724.0,489.0 L725.0,490.5 L726.0,490.2 L727.0,490.2 L728.0,489.7 L729.0,489.3 L730.0,488.8 L731.0,490.2 L732.0,489.5 L733.0,488.6 L734.0,488.8 L735.0,488.7 L736.0,489.9 L737.0,490.3 L738.0,488.9 L739.0,490.1 L740.0,489.1 L741.0,489.9 L742.0,490.2 L743.0,489.7 L744.0,490.1 L745.0,489.3 L746.0,488.5 L747.0,489.5 L748.0,489.7 L749.0,488.9 L750.0,489.3 L751.0,489.1 L752.0,488.6 L753.0,489.1 L754.0,489.3 L755.0,489.5 L756.0,489.9 L757.0,489.3 L758.0,490.5 L759.0,490.1 L760.0,490.3 L761.0,489.9 L762.0,489.8 L763.0,489.6 L764.0,490.1 L765.0,489.2 L766.0,489.7 L767.0,489.9 L768.0,489.5 L769.0,489.1 L770.0,488.7 L771.0,488.7 L772.0,489.2 L773.0,489.7 L774.0,490.0 L775.0,489.9 L776.0,489.1 L777.0,490.4 L778.0,489.0 L779.0,489.9 L780.0,488.6 L781.0,490.0 L782.0,489.8 L783.0,490.4 L784.0,490.3 L785.0,489.9 L786.0,490.2 L787.0,490.0 L788.0,489.7 L789.0,488.9 L790.0,489.5 L791.0,490.3 L792.0,489.0 L793.0,490.4 L794.0,489.6 L795.0,489.3 L796.0,488.5 L797.0,489.3 L798.0,488.9 L799.0,489.8 L800.0,490.3 L801.0,490.3 L802.0,489.7 L803.0,489.3 L804.0,488.7 L805.0,489.9 L806.0,489.6 L807.0,489.9 L808.0,489.2 L809.0,490.3 L810.0,488.9 L811.0,489.1 L812.0,489.0 L813.0,489.7 L814.0,490.3 L815.0,488.8 L816.0,489.8 L817.0,490.0 L818.0,488.9 L819.0,488.6 L820.0,489.6 L821.0,490.2 L822.0,490.3 L823.0,490.0 L824.0,489.3 L825.0,489.4 L826.0,489.6 L827.0,490.3 L828.0,489.1 L829.0,489.1 L830.0,489.7 L831.0,490.4 L832.0,488.9 L833.0,488.6 L834.0,488.7 L835.0,489.6 L836.0,489.7 L837.0,488.9 L838.0,488.9 L839.0,489.7 L840.0,489.8 L841.0,489.9 L842.0,490.0 L843.0,488.6 L844.0,489.5 L845.0,490.2 L846.0,490.4 L847.0,489.1 L848.0,490.2 L849.0,489.8 L850.0,490.4 L851.0,489.0 L852.0,489.9 L853.0,488.1 L854.0,485.4 L855.0,482.6 L856.0,484.8 L857.0,486.8 L858.0,488.7 L859.0,488.8 L860.0,489.7 L861.0,488.7 L862.0,490.0 L863.0,490.0 L864.0,490.2 L865.0,490.1 L866.0,490.0 L867.0,490.4 L868.0,490.4 L869.0,489.8 L870.0,490.5 L871.0,488.8 L872.0,488.8 L873.0,488.7 L874.0,489.0 L875.0,489.3 L876.0,489.5 L877.0,489.9 L878.0,490.1 L879.0,488.7 L880.0,489.4 L881.0,489.7 L882.0,489.3 L883.0,488.8 L884.0,489.8 L885.0,489.3 L886.0,490.0 L887.0,489.6 L888.0,490.5 L889.0,490.5 L890.0,488.8 L891.0,490.1 L892.0,490.1 L893.0,489.2 L894.0,488.9 L895.0,489.6 L896.0,489.3 L897.0,490.1 L898.0,490.5 L899.0,489.4 L900.0,489.2 L901.0,489.6 L902.0,490.0 L903.0,490.2 L904.0,489.8 L905.0,489.3 L906.0,489.3 L907.0,490.4 L908.0,489.7 L909.0,488.8 L910.0,489.5 L911.0,489.2 L912.0,490.0 L913.0,488.8 L914.0,489.2 L915.0,488.9 L916.0,489.7 L917.0,490.7 L918.0,489.8 L919.0,489.5 L920.0,490.6 L921.0,488.9 L922.0,489.4 L923.0,490.3 L924.0,488.7 L925.0,490.3 L926.0,489.5 L927.0,488.8 L928.0,489.2 L929.0,489.7 L930.0,489.5 L931.0,489.8 L932.0,488.9 L933.0,489.2 L934.0,490.7 L935.0,489.7 L936.0,489.7 L937.0,488.9 L938.0,489.3 L939.0,490.7 L940.0,490.2 L941.0,489.8 L942.0,488.9 L943.0,489.6 L944.0,490.4 L945.0,489.7 L946.0,490.0 L947.0,490.6 L948.0,490.1 L949.0,490.1 L950.0,488.9 L951.0,488.9 L952.0,490.4 L953.0,489.7 L954.0,490.6 L955.0,490.5 L956.0,490.7 L957.0,489.6 L958.0,490.8 L959.0,490.4 L960.0,490.6 L961.0,489.2 L962.0,490.4 L963.0,489.7 L964.0,490.8 L965.0,490.9 L966.0,489.3 L967.0,489.7 L968.0,489.4 L969.0,489.8 L970.0,489.5 L971.0,490.2 L972.0,489.1 L973.0,489.2 L974.0,489.8 L975.0,489.1 L976.0,489.7 L977.0,490.7 L978.0,490.7 L979.0,489.3 L980.0,489.0 L981.0,490.6 L982.0,490.9 L983.0,490.1 L984.0,489.2 L985.0,489.4 L986.0,490.8 L987.0,490.8 L988.0,489.0 L989.0,489.3 L990.0,489.8 L991.0,489.5 L992.0,490.5 L993.0,489.7 L994.0,490.5 L995.0,489.3 L996.0,490.0 L997.0,490.9 L998.0,490.4 L999.0,489.2 L1000.0,489.2 L1001.0,490.3 L1001.0,494.4 Z" fill="#b0467a"/>
<g font-family="Liberation Sans, sans-serif" font-size="72" fill="#e2e2e2" fill-opacity="0.32" stroke="#e2e2e2" stroke-opacity="0.32" stroke-width="1.5"><text transform="translate(361.3,301) scale(1.17,1)">g</text><text transform="translate(408.8,301) scale(1.20,1)">l</text><text transform="translate(424.9,301) scale(1.08,1)">a</text><text transform="translate(472.4,301) scale(0.99,1)">s</text><text transform="translate(507.8,301) scale(0.93,1)">s</text><text transform="translate(540.2,301) scale(1.15,1)">n</text><text transform="translate(582.5,301) scale(1.21,1)">o</text><text transform="translate(630.4,301) scale(1.23,1)">d</text><text transform="translate(674.6,301) scale(1.18,1)">e</text></g>
<polyline points="83.3,469.4 84.1,469.1 84.9,469.1 85.7,469.6 86.5,468.6 87.3,468.5 88.2,466.4 89.1,464.4 90.0,462.1 91.0,457.4 91.9,453.9 92.8,453.0 93.7,452.1 94.6,450.0 95.5,447.5 96.4,445.8 97.3,443.0 98.2,437.2 99.2,432.9 100.1,438.4 101.0,451.2 101.9,451.7 102.8,453.0 103.7,458.7 104.6,465.8 105.5,461.8 106.5,456.6 107.4,455.1 108.3,453.0 109.2,453.1 110.1,454.8 111.0,454.3 111.9,452.1 112.8,452.6 113.8,451.8 114.7,451.2 115.6,451.0 116.5,450.3 117.4,445.5 118.3,442.0 119.2,440.2 120.1,440.2 121.0,439.4 122.0,438.4 122.9,439.9 123.8,443.0 124.7,441.5 125.6,440.7 126.5,440.2 127.4,437.9 128.4,437.1 129.3,435.7 130.2,433.5 131.1,432.0 132.0,429.3 132.9,428.1 133.8,427.1 134.7,425.6 135.6,422.9 136.6,420.4 137.5,417.4 138.4,418.2 139.3,419.2 140.2,423.9 141.1,429.3 142.1,426.5 143.0,422.0 143.9,421.5 144.8,419.2 145.7,427.6 146.6,434.7 147.5,436.9 148.4,438.4 149.4,443.5 150.3,449.3 151.2,445.2 152.1,442.0 153.0,438.0 153.9,434.7 154.8,432.1 155.7,431.6 156.6,429.3 157.5,427.6 158.5,426.9 159.4,424.7 160.3,423.9 161.2,424.3 162.1,422.9 163.0,425.3 163.9,426.5 164.8,425.0 165.8,424.8 166.7,424.7 167.6,424.5 168.5,422.8 169.4,422.0 170.3,421.3 171.3,418.7 172.2,417.4 173.1,414.5 174.0,413.4 174.9,411.0 175.8,407.9 176.7,403.7 177.6,399.6 178.5,396.4 179.8,389.4 180.9,384.9 182.0,381.8 183.1,384.2 184.2,387.2 185.3,384.8 186.4,380.7 187.5,374.6 188.6,367.5 189.7,360.3 190.8,354.4 191.9,361.0 193.0,367.5 194.1,362.7 195.2,358.8 196.3,351.5 197.4,345.6 198.4,340.5 199.5,336.9 200.6,335.8 201.7,333.6 202.8,339.1 203.9,344.5 205.0,351.1 206.1,347.4 207.2,343.5 208.3,342.9 209.4,342.4 210.5,346.7 211.6,352.2 212.7,350.4 213.8,347.8 214.9,348.2 216.0,350.0 217.1,348.1 218.1,345.6 219.2,348.2 220.3,352.2 221.4,355.4 222.5,358.8 223.6,367.0 224.7,376.3 225.8,367.5 226.9,352.9 228.0,339.1 229.1,342.1 230.2,343.5 231.3,345.1 232.4,345.6 233.5,342.0 234.6,339.1 235.6,338.1 236.7,335.8 237.8,328.2 238.9,321.6 240.0,319.2 241.1,317.2 242.2,306.9 243.3,295.3 244.4,296.7 245.5,297.5 246.6,298.4 247.7,300.8 248.5,299.8 249.3,296.4 250.2,294.6 251.0,293.1 252.1,290.3 253.1,286.3 254.2,283.3 255.3,284.6 256.4,286.6 257.5,288.0 258.6,290.9 260.0,292.5 260.9,295.3 261.9,299.6 262.8,311.6 263.6,323.4 265.2,302.0 266.1,305.1 267.1,309.1 268.3,310.5 269.5,311.5 270.4,307.7 271.4,304.4 272.2,300.8 273.0,297.3 274.2,296.9 275.4,294.9 276.2,294.1 277.0,293.4 277.8,292.5 279.0,289.0 280.2,284.2 281.4,277.1 282.5,271.2 283.7,267.0 284.9,264.1 285.8,266.6 286.6,267.6 287.6,265.2 288.5,261.7 289.6,264.8 290.8,268.8 292.0,263.5 293.2,259.3 294.0,255.8 294.8,252.2 295.6,247.4 296.6,243.3 297.5,240.3 298.3,242.3 299.1,242.7 300.3,252.9 301.5,261.7 302.7,249.8 303.5,245.3 304.3,240.2 305.1,235.6 306.2,231.9 307.4,229.7 308.2,229.2 309.0,231.3 309.8,230.8 310.8,221.3 311.8,212.8 312.9,211.5 313.9,209.5 314.7,203.6 315.5,198.5 316.6,189.8 317.7,156.9 318.8,155.8 319.9,167.9 321.0,155.8 322.1,158.0 323.1,148.1 324.2,141.1 325.3,146.0 326.4,154.7 327.2,163.0 328.0,170.1 329.3,174.4 330.8,163.5 331.9,172.2 333.4,183.2 334.3,177.4 335.2,171.2 336.3,163.1 337.4,155.8 338.9,163.5 339.8,169.5 340.7,176.6 341.5,176.4 342.4,175.5 343.2,177.5 344.0,181.0 345.1,196.3 346.6,185.4 347.5,191.5 348.3,198.5 349.4,197.5 350.5,196.3 351.3,198.6 352.1,199.6 353.0,204.8 353.8,209.5 354.7,214.6 355.6,220.5 357.1,246.7 358.6,227.0 359.5,228.9 360.4,229.2 361.5,224.3 362.6,220.5 363.7,210.8 364.8,202.9 365.9,199.2 367.0,196.3 368.1,201.7 369.2,207.3 370.0,208.7 370.9,211.7 372.4,205.1 373.5,199.6 374.6,195.3 376.2,205.1 377.0,209.3 377.9,213.9 379.0,216.2 380.1,218.3 381.2,222.0 382.3,227.0 383.4,224.6 384.5,222.6 385.6,223.3 386.7,222.6 387.8,227.9 388.9,231.4 390.0,235.0 391.1,238.0 392.2,242.7 393.3,246.7 394.1,243.6 395.0,240.2 396.5,248.9 397.6,247.2 398.7,246.7 399.5,240.4 400.3,235.8 401.1,232.7 402.0,231.4 403.1,231.0 404.2,229.2 405.3,225.2 406.4,220.5 407.5,218.0 408.6,213.9 409.7,214.1 410.8,216.1 411.9,214.7 413.0,212.8 414.1,212.2 415.2,211.7 416.2,214.7 417.2,216.9 418.3,220.2 419.4,224.2 420.8,222.8 422.3,229.3 423.4,228.7 424.5,226.4 425.6,230.4 426.7,235.9 427.8,239.3 428.9,242.5 430.0,241.1 431.1,238.8 432.2,238.4 433.3,236.6 434.4,237.4 435.4,237.4 436.9,236.6 438.4,244.7 439.5,249.4 440.6,253.4 441.7,252.8 442.8,251.2 444.2,249.8 445.3,254.9 446.4,258.5 447.5,258.6 448.6,259.3 450.1,262.2 451.1,258.9 452.2,254.9 453.3,253.4 454.4,250.5 455.5,250.4 456.6,249.0 457.7,252.5 458.8,256.3 460.3,256.3 461.7,241.7 462.8,240.8 463.9,238.8 465.4,235.9 466.9,227.9 467.9,229.7 469.0,230.1 470.1,231.7 471.2,233.0 472.3,237.6 473.4,241.7 474.5,245.1 475.6,249.0 477.1,255.6 478.2,256.1 479.3,256.3 480.4,255.8 481.5,254.9 482.6,253.4 483.7,253.4 484.8,252.2 485.8,250.5 486.9,249.6 488.0,246.9 489.1,246.5 490.2,244.7 491.3,243.6 492.4,241.7 493.9,241.0 495.3,249.0 496.8,256.3 497.9,255.0 499.0,254.2 500.1,254.2 501.2,253.4 502.3,253.2 503.4,252.7 504.5,251.1 505.6,249.8 506.7,251.1 507.8,251.2 508.9,250.1 510.0,250.5 511.1,251.7 512.1,252.0 513.2,250.8 514.3,251.2 515.3,251.9 516.2,252.2 517.2,252.7 518.3,253.3 519.4,254.9 520.5,254.2 521.6,252.7 522.6,252.9 523.6,253.4 524.6,253.4 525.6,254.4 526.5,253.5 527.5,254.2 528.5,253.6 529.4,254.3 530.4,254.9 531.4,255.0 532.3,253.9 533.3,254.2 534.3,253.3 535.2,254.4 536.2,253.4 537.3,254.8 538.4,255.6 539.9,262.2 541.4,269.5 542.5,274.6 543.5,280.0 543.8,289.3 544.7,292.4 545.6,293.9 546.5,296.6 547.5,301.5 548.4,305.8 549.3,300.7 550.2,296.6 551.1,299.5 552.0,303.3 552.9,305.8 553.8,310.1 554.7,313.0 555.8,315.4 556.9,316.5 557.8,318.1 558.7,320.2 559.7,321.7 560.6,323.0 561.5,315.7 562.4,309.1 563.9,300.3 564.9,301.5 566.0,304.1 567.0,306.0 567.8,306.2 568.7,305.8 569.5,305.2 570.4,305.2 571.2,304.0 572.1,302.9 573.0,302.0 573.9,301.8 574.8,301.2 575.7,303.3 576.6,305.7 577.6,308.5 578.5,311.2 579.4,311.7 580.3,311.8 581.2,311.8 582.2,313.0 583.1,313.6 584.0,313.0 584.8,313.3 585.6,313.1 586.4,313.4 587.2,315.3 588.0,314.2 588.8,315.8 589.6,316.0 590.4,315.9 591.2,316.7 592.1,317.7 593.0,316.7 594.0,317.4 594.9,318.5 595.8,316.6 596.7,314.0 597.6,313.6 598.5,311.2 599.4,309.8 600.4,308.8 601.3,307.7 602.2,307.6 603.1,305.8 604.0,303.4 604.9,301.7 605.8,299.4 606.8,302.9 607.7,305.8 608.6,306.2 609.5,306.3 610.4,305.7 611.3,304.7 612.2,305.0 613.1,304.9 613.9,303.9 614.7,303.2 615.5,303.6 616.3,303.6 617.2,302.3 618.0,302.0 618.8,301.7 619.6,302.0 620.4,301.2 621.2,300.9 622.0,300.8 622.8,300.8 623.6,299.8 624.5,300.2 625.3,300.1 626.1,298.4 626.9,299.6 627.7,298.5 628.6,292.8 629.6,285.6 630.5,280.2 631.4,278.8 632.3,277.9 633.2,277.1 634.1,274.9 635.0,273.8 635.9,274.6 636.9,275.9 637.8,276.4 638.7,276.6 639.6,276.3 640.5,274.4 641.5,273.7 642.4,271.8 643.3,271.7 644.2,270.2 645.1,272.7 646.0,274.0 646.9,273.5 647.8,272.9 648.7,271.2 649.6,271.0 650.5,269.3 651.5,267.1 652.4,263.8 653.3,260.1 654.2,254.7 655.1,250.0 656.6,238.6 658.0,229.9 659.5,240.1 660.9,231.3 662.4,234.2 663.5,230.4 664.6,225.5 666.1,222.6 667.5,224.7 669.0,224.0 670.4,234.2 671.9,232.8 673.4,235.7 674.8,231.3 676.3,226.9 677.4,222.9 678.5,219.6 679.6,217.4 680.7,213.8 682.1,205.0 683.6,196.3 684.7,183.1 685.8,187.5 687.2,197.7 688.7,202.1 690.1,196.3 691.6,199.2 692.5,193.6 693.5,186.8 694.5,190.4 696.0,199.2 697.4,206.5 698.5,213.8 699.9,204.3 700.8,205.1 701.8,206.5 703.3,210.9 704.7,213.8 705.8,213.0 706.9,213.8 708.0,209.3 709.1,205.0 710.2,200.0 711.3,194.8 712.8,191.2 714.2,194.8 715.7,197.7 717.2,208.0 718.6,206.5 720.1,201.4 721.5,206.5 722.6,207.3 723.7,207.2 724.8,208.3 725.9,209.4 727.4,213.8 728.5,207.9 729.6,203.6 730.7,204.5 731.8,204.3 732.8,204.7 733.7,207.3 734.7,208.0 735.7,206.7 736.6,206.2 737.6,205.8 738.7,207.0 739.8,207.2 740.9,207.0 742.0,208.0 743.4,222.6 744.9,228.4 746.0,228.5 747.1,229.9 748.2,228.8 749.3,227.7 750.4,229.9 751.5,231.3 752.5,229.4 753.6,226.2 754.7,227.6 755.8,228.4 756.9,230.0 758.0,229.9 759.1,229.9 760.2,229.9 761.7,232.8 762.7,238.6 763.9,225.5 765.3,215.3 766.4,216.9 767.5,216.8 768.5,215.6 769.5,215.8 770.4,215.7 771.3,216.7 772.1,218.9 773.0,221.0 773.9,221.1 774.7,221.9 775.6,223.4 776.4,224.4 777.3,225.3 778.2,225.8 779.1,226.2 780.0,230.3 780.8,233.1 781.7,237.0 782.5,240.3 783.4,244.4 784.2,242.0 785.1,240.1 786.0,239.0 786.9,236.6 787.8,239.1 788.6,240.1 789.5,238.7 790.3,238.4 791.2,239.9 792.1,240.1 793.0,242.1 793.8,242.5 794.7,243.6 795.5,243.3 796.4,242.7 797.8,250.5 799.0,243.6 799.9,241.9 800.7,241.3 801.6,240.1 802.5,240.7 803.3,241.4 804.2,241.8 805.1,240.1 806.0,240.1 806.9,242.7 807.7,243.6 808.6,245.3 809.5,241.7 810.3,238.4 811.1,235.4 812.0,231.4 812.9,231.2 813.7,230.8 814.6,230.5 815.5,226.9 816.4,222.7 817.3,221.7 818.1,222.2 819.0,221.9 819.9,223.2 820.7,225.6 821.6,226.2 822.5,227.0 823.3,226.2 824.1,221.4 825.0,217.5 825.9,216.2 826.8,214.9 827.7,214.8 828.5,216.0 829.4,216.7 830.2,215.1 831.1,212.3 832.0,211.6 832.8,209.4 833.7,208.0 834.5,207.2 835.4,207.1 836.3,207.8 837.2,209.7 838.0,210.8 838.9,211.5 839.8,211.8 840.6,210.6 841.5,211.7 842.4,214.1 843.2,217.2 844.1,219.3 845.0,220.6 845.8,223.6 846.7,221.7 847.6,221.0 848.5,219.7 849.3,219.3 850.5,225.3 851.9,232.3 853.3,234.9 853.6,281.7 855.0,269.6 856.2,276.5 857.1,271.6 858.0,266.1 858.9,262.3 859.7,259.2 860.5,254.6 861.4,250.5 862.3,251.6 863.2,252.2 864.0,255.8 864.9,260.9 865.8,257.0 866.6,252.2 867.5,248.9 868.4,247.0 869.2,244.4 870.1,241.8 871.3,243.2 872.5,245.5 873.3,243.8 874.1,243.1 874.9,246.9 875.7,250.5 876.5,247.1 877.4,243.9 878.2,245.3 879.0,247.2 879.9,244.5 880.7,242.2 882.3,235.7 883.1,231.7 884.0,227.5 884.8,223.6 885.6,220.9 886.4,219.8 887.3,220.1 888.1,219.3 888.9,215.4 889.7,211.1 891.3,214.3 892.7,224.2 894.3,213.5 895.3,214.0 896.3,214.3 897.1,216.0 897.9,216.7 898.7,217.6 899.5,219.6 900.4,219.9 901.2,221.7 902.0,219.7 902.9,217.3 903.7,214.3 904.9,212.6 906.1,209.4 906.9,210.2 907.8,211.3 908.6,212.7 909.4,213.2 910.3,211.7 911.1,211.9 912.3,214.8 913.5,216.0 914.3,216.4 915.2,214.8 916.0,215.2 916.8,214.3 917.6,214.8 918.5,213.5 919.3,213.5 920.1,214.0 920.9,216.5 921.7,217.0 922.5,218.4 923.3,219.1 924.1,218.2 925.0,218.9 925.8,219.3 926.6,219.2 927.5,217.6 928.3,217.5 929.1,217.6 929.9,217.7 930.8,217.9 931.6,217.8 932.4,216.8 933.2,216.5 934.0,217.6 934.9,218.5 935.7,218.4 936.5,217.8 937.4,217.5 938.2,216.0 939.0,216.0 940.2,212.8 941.4,211.1 942.2,204.6 943.1,199.6 944.3,196.3 945.5,194.6 946.3,194.2 947.2,193.6 948.0,193.0 948.8,193.4 949.7,192.9 950.5,193.8 951.3,192.6 952.1,192.0 952.9,192.5 953.7,191.3 954.5,191.9 955.4,191.5 956.2,190.5 957.0,190.6 957.9,191.4 958.7,193.0 959.9,194.6 961.1,194.6 961.9,195.1 962.8,196.2 963.6,196.3 964.7,193.5 965.7,191.3 966.9,202.0 967.7,204.4 968.5,206.9 969.3,206.7 970.1,206.4 971.0,206.5 971.8,206.1 972.6,204.4 973.5,204.8 974.3,204.2 975.1,202.8 975.9,201.4 976.8,201.1 977.6,200.4 978.8,203.7 980.0,206.1 980.8,204.6 981.7,202.8 982.5,202.0 983.7,201.8 984.9,202.8 985.7,203.1 986.6,202.5 987.4,203.7 988.2,203.6 989.1,202.6 989.9,201.2 991.1,199.5 992.3,197.1 993.1,197.2 994.0,196.3 994.8,195.5 995.6,195.6 996.5,196.2 997.3,196.3 998.1,191.4 998.9,186.4 999.7,185.2 1000.5,182.3" fill="none" stroke="#26281e" stroke-opacity="0.66" stroke-width="1.2" stroke-linejoin="round"/>
</svg>
<div class="yl" style="top:128.3px">100.00%</div>
<div class="yl" style="top:198.6px">80.00%</div>
<div class="yl" style="top:270.1px">60.00%</div>
<div class="yl" style="top:340.4px">40.00%</div>
<div class="yl" style="top:410.5px">20.00%</div>
<div class="yl" style="top:481.8px">0.00%</div>
<div class="yr" style="top:126.6px">$20000</div>
<div class="yr" style="top:219.9px">$8000</div>
<div class="yr" style="top:290.3px">$4000</div>
<div class="yr" style="top:430.9px">$1000</div>
<div class="yr" style="top:482.5px">$600</div>
<div class="xl" style="left:58.1px">Jan '17</div>
<div class="xl" style="left:135.4px">May '17</div>
<div class="xl" style="left:214.9px">Sep '17</div>
<div class="xl" style="left:294.0px">Jan '18</div>
<div class="xl" style="left:372.4px">May '18</div>
<div class="xl" style="left:451.6px">Sep '18</div>
<div class="xl" style="left:531.0px">Jan '19</div>
<div class="xl" style="left:608.3px">May '19</div>
<div class="xl" style="left:688.3px">Sep '19</div>
<div class="xl" style="left:767.5px">Jan '20</div>
<div class="xl" style="left:846.0px">May '20</div>
<div class="xl" style="left:926.0px">Sep '20</div>
<div class="foot">© 2020 Glassnode. All Rights Reserved.</div>
<div class="logo">glassnode</div>
</body></html>
